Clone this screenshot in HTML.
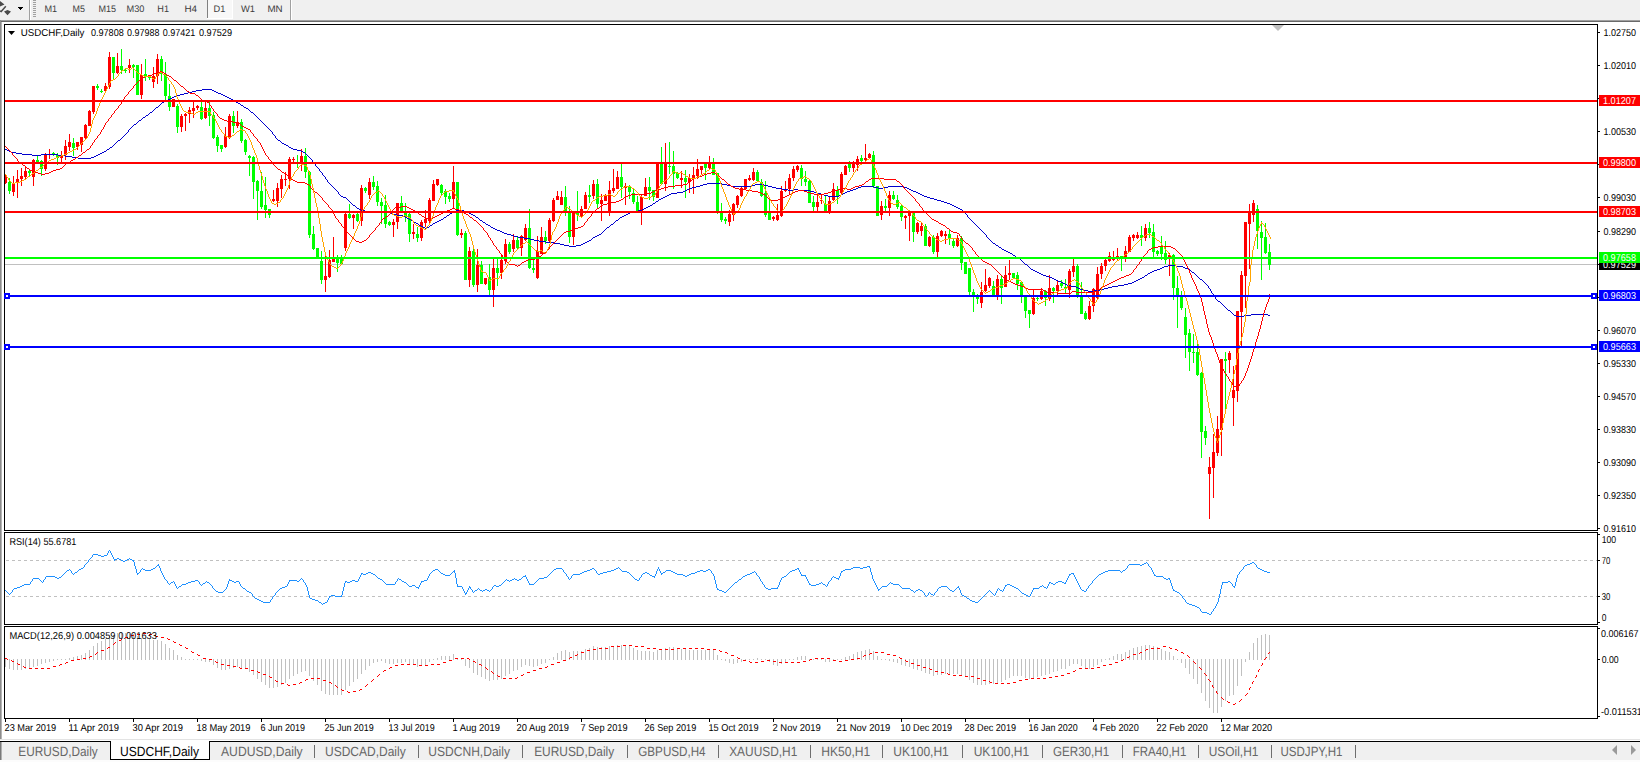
<!DOCTYPE html>
<html><head><meta charset="utf-8"><title>USDCHF,Daily</title>
<style>html,body{margin:0;padding:0;background:#fff;overflow:hidden}svg{display:block}text{font-family:"Liberation Sans",sans-serif;text-rendering:geometricPrecision}</style>
</head><body>
<svg width="1640" height="762" viewBox="0 0 1640 762" shape-rendering="crispEdges">
<rect x="0" y="0" width="1640" height="762" fill="#fff" />
<rect x="0" y="0" width="1640" height="20" fill="#f0f0f0" />
<rect x="0" y="20" width="1640" height="1" fill="#a0a0a0" />
<rect x="0" y="21" width="1640" height="1" fill="#696969" />
<rect x="0" y="20" width="1" height="719" fill="#8c8c8c" />
<rect x="1" y="22" width="1" height="717" fill="#b4b4b4" />
<rect x="29" y="0" width="1" height="20" fill="#a0a0a0" />
<rect x="30" y="0" width="1" height="20" fill="#fff" />
<rect x="33" y="0" width="3" height="1" fill="#a0a0a0" />
<rect x="33" y="2" width="3" height="1" fill="#a0a0a0" />
<rect x="33" y="4" width="3" height="1" fill="#a0a0a0" />
<rect x="33" y="6" width="3" height="1" fill="#a0a0a0" />
<rect x="33" y="8" width="3" height="1" fill="#a0a0a0" />
<rect x="33" y="10" width="3" height="1" fill="#a0a0a0" />
<rect x="33" y="12" width="3" height="1" fill="#a0a0a0" />
<rect x="33" y="14" width="3" height="1" fill="#a0a0a0" />
<rect x="33" y="16" width="3" height="1" fill="#a0a0a0" />
<rect x="18" y="7" width="5" height="1" fill="#000" />
<rect x="19" y="8" width="3" height="1" fill="#000" />
<rect x="20" y="9" width="1" height="1" fill="#000" />
<path d="M0 1 L4.5 4.5 L0 6.5 Z M4 11.5 L7.5 10 L11 11.5 L7.5 15.3 Z" fill="#4a4a4a" shape-rendering="auto"/>
<path d="M0 10.8 L1.2 11.6 L5.8 6.3" stroke="#4a4a4a" stroke-width="1.5" fill="none" shape-rendering="auto"/>
<rect x="207" y="0" width="1" height="18" fill="#808080" />
<rect x="208" y="0" width="24" height="18" fill="#f8f8f8" />
<rect x="207" y="18" width="26" height="1" fill="#fff" />
<rect x="232" y="0" width="1" height="19" fill="#fff" />
<rect x="290" y="0" width="1" height="20" fill="#a0a0a0" />
<rect x="291" y="0" width="1" height="20" fill="#fff" />
<text x="44.5" y="12" font-size="9.5" fill="#3c3c3c" textLength="12.7" lengthAdjust="spacingAndGlyphs" >M1</text>
<text x="72.6" y="12" font-size="9.5" fill="#3c3c3c" textLength="12.4" lengthAdjust="spacingAndGlyphs" >M5</text>
<text x="98.4" y="12" font-size="9.5" fill="#3c3c3c" textLength="17.6" lengthAdjust="spacingAndGlyphs" >M15</text>
<text x="126.6" y="12" font-size="9.5" fill="#3c3c3c" textLength="17.9" lengthAdjust="spacingAndGlyphs" >M30</text>
<text x="157.3" y="12" font-size="9.5" fill="#3c3c3c" textLength="11.7" lengthAdjust="spacingAndGlyphs" >H1</text>
<text x="184.4" y="12" font-size="9.5" fill="#3c3c3c" textLength="12.6" lengthAdjust="spacingAndGlyphs" >H4</text>
<text x="213.5" y="12" font-size="9.5" fill="#3c3c3c" textLength="11.8" lengthAdjust="spacingAndGlyphs" >D1</text>
<text x="241" y="12" font-size="9.5" fill="#3c3c3c" textLength="14" lengthAdjust="spacingAndGlyphs" >W1</text>
<text x="267.4" y="12" font-size="9.5" fill="#3c3c3c" textLength="15.2" lengthAdjust="spacingAndGlyphs" >MN</text>
<rect x="4" y="24" width="1594" height="1" fill="#000" />
<rect x="4" y="530" width="1594" height="1" fill="#000" />
<rect x="4" y="24" width="1" height="507" fill="#000" />
<rect x="1597" y="24" width="1" height="507" fill="#000" />
<rect x="4" y="532" width="1594" height="1" fill="#000" />
<rect x="4" y="624" width="1594" height="1" fill="#000" />
<rect x="4" y="532" width="1" height="93" fill="#000" />
<rect x="1597" y="532" width="1" height="93" fill="#000" />
<rect x="4" y="626" width="1594" height="1" fill="#000" />
<rect x="4" y="718" width="1594" height="1" fill="#000" />
<rect x="4" y="626" width="1" height="93" fill="#000" />
<rect x="1597" y="626" width="1" height="93" fill="#000" />
<rect x="0" y="739" width="1640" height="1" fill="#e3e3e3" />
<rect x="0" y="741" width="1640" height="1" fill="#000" />
<rect x="0" y="742" width="1640" height="18" fill="#f0f0f0" />
<rect x="0" y="760" width="1640" height="2" fill="#fcfcfc" />
<rect x="5" y="264" width="1592" height="1" fill="#c0c0c0" />
<rect x="5" y="174" width="1" height="10" fill="#ff0000" />
<rect x="5" y="175" width="2" height="8" fill="#ff0000" />
<rect x="9" y="178" width="1" height="16" fill="#00ff00" />
<rect x="8" y="182" width="3" height="9" fill="#00ff00" />
<rect x="13" y="176" width="1" height="20" fill="#ff0000" />
<rect x="12" y="184" width="3" height="8" fill="#ff0000" />
<rect x="17" y="170" width="1" height="28" fill="#ff0000" />
<rect x="16" y="179" width="3" height="3" fill="#ff0000" />
<rect x="21" y="168" width="1" height="18" fill="#ff0000" />
<rect x="20" y="176" width="3" height="3" fill="#ff0000" />
<rect x="25" y="166" width="1" height="13" fill="#ff0000" />
<rect x="24" y="171" width="3" height="6" fill="#ff0000" />
<rect x="29" y="170" width="1" height="6" fill="#00ff00" />
<rect x="28" y="171" width="3" height="2" fill="#00ff00" />
<rect x="33" y="159" width="1" height="27" fill="#ff0000" />
<rect x="32" y="160" width="3" height="17" fill="#ff0000" />
<rect x="37" y="156" width="1" height="6" fill="#00ff00" />
<rect x="36" y="160" width="3" height="2" fill="#00ff00" />
<rect x="41" y="160" width="1" height="16" fill="#00ff00" />
<rect x="40" y="161" width="3" height="8" fill="#00ff00" />
<rect x="45" y="153" width="1" height="18" fill="#ff0000" />
<rect x="44" y="154" width="3" height="15" fill="#ff0000" />
<rect x="49" y="149" width="1" height="10" fill="#ff0000" />
<rect x="48" y="154" width="3" height="1" fill="#ff0000" />
<rect x="53" y="152" width="1" height="4" fill="#00ff00" />
<rect x="52" y="153" width="3" height="2" fill="#00ff00" />
<rect x="57" y="153" width="1" height="12" fill="#00ff00" />
<rect x="56" y="155" width="3" height="3" fill="#00ff00" />
<rect x="61" y="151" width="1" height="11" fill="#ff0000" />
<rect x="60" y="155" width="3" height="3" fill="#ff0000" />
<rect x="65" y="140" width="1" height="20" fill="#ff0000" />
<rect x="64" y="146" width="3" height="9" fill="#ff0000" />
<rect x="69" y="134" width="1" height="17" fill="#ff0000" />
<rect x="68" y="142" width="3" height="5" fill="#ff0000" />
<rect x="73" y="138" width="1" height="18" fill="#00ff00" />
<rect x="72" y="143" width="3" height="5" fill="#00ff00" />
<rect x="77" y="142" width="1" height="8" fill="#ff0000" />
<rect x="76" y="142" width="3" height="5" fill="#ff0000" />
<rect x="81" y="137" width="1" height="15" fill="#ff0000" />
<rect x="80" y="137" width="3" height="8" fill="#ff0000" />
<rect x="85" y="124" width="1" height="15" fill="#ff0000" />
<rect x="84" y="125" width="3" height="13" fill="#ff0000" />
<rect x="89" y="110" width="1" height="16" fill="#ff0000" />
<rect x="88" y="111" width="3" height="15" fill="#ff0000" />
<rect x="93" y="86" width="1" height="28" fill="#ff0000" />
<rect x="92" y="86" width="3" height="26" fill="#ff0000" />
<rect x="97" y="84" width="1" height="6" fill="#00ff00" />
<rect x="96" y="86" width="3" height="2" fill="#00ff00" />
<rect x="101" y="89" width="1" height="4" fill="#00ff00" />
<rect x="100" y="91" width="3" height="1" fill="#00ff00" />
<rect x="105" y="83" width="1" height="8" fill="#ff0000" />
<rect x="104" y="86" width="3" height="5" fill="#ff0000" />
<rect x="109" y="52" width="1" height="37" fill="#ff0000" />
<rect x="108" y="57" width="3" height="30" fill="#ff0000" />
<rect x="113" y="57" width="1" height="22" fill="#00ff00" />
<rect x="112" y="57" width="3" height="16" fill="#00ff00" />
<rect x="117" y="53" width="1" height="21" fill="#ff0000" />
<rect x="116" y="66" width="3" height="7" fill="#ff0000" />
<rect x="121" y="49" width="1" height="25" fill="#00ff00" />
<rect x="120" y="66" width="3" height="4" fill="#00ff00" />
<rect x="125" y="69" width="1" height="4" fill="#00ff00" />
<rect x="124" y="70" width="3" height="1" fill="#00ff00" />
<rect x="129" y="59" width="1" height="14" fill="#ff0000" />
<rect x="128" y="65" width="3" height="3" fill="#ff0000" />
<rect x="133" y="64" width="1" height="14" fill="#00ff00" />
<rect x="132" y="65" width="3" height="2" fill="#00ff00" />
<rect x="137" y="65" width="1" height="30" fill="#00ff00" />
<rect x="136" y="65" width="3" height="30" fill="#00ff00" />
<rect x="141" y="64" width="1" height="35" fill="#ff0000" />
<rect x="140" y="75" width="3" height="20" fill="#ff0000" />
<rect x="145" y="59" width="1" height="22" fill="#00ff00" />
<rect x="144" y="74" width="3" height="2" fill="#00ff00" />
<rect x="149" y="76" width="1" height="4" fill="#00ff00" />
<rect x="148" y="77" width="3" height="1" fill="#00ff00" />
<rect x="153" y="67" width="1" height="21" fill="#ff0000" />
<rect x="152" y="76" width="3" height="6" fill="#ff0000" />
<rect x="157" y="54" width="1" height="30" fill="#ff0000" />
<rect x="156" y="59" width="3" height="17" fill="#ff0000" />
<rect x="161" y="56" width="1" height="25" fill="#00ff00" />
<rect x="160" y="59" width="3" height="15" fill="#00ff00" />
<rect x="165" y="62" width="1" height="38" fill="#00ff00" />
<rect x="164" y="74" width="3" height="22" fill="#00ff00" />
<rect x="169" y="84" width="1" height="27" fill="#00ff00" />
<rect x="168" y="96" width="3" height="11" fill="#00ff00" />
<rect x="173" y="99" width="1" height="8" fill="#ff0000" />
<rect x="172" y="99" width="3" height="8" fill="#ff0000" />
<rect x="177" y="104" width="1" height="29" fill="#00ff00" />
<rect x="176" y="106" width="3" height="21" fill="#00ff00" />
<rect x="181" y="114" width="1" height="18" fill="#ff0000" />
<rect x="180" y="116" width="3" height="11" fill="#ff0000" />
<rect x="185" y="113" width="1" height="18" fill="#ff0000" />
<rect x="184" y="114" width="3" height="2" fill="#ff0000" />
<rect x="189" y="107" width="1" height="16" fill="#ff0000" />
<rect x="188" y="110" width="3" height="4" fill="#ff0000" />
<rect x="193" y="102" width="1" height="16" fill="#ff0000" />
<rect x="192" y="108" width="3" height="3" fill="#ff0000" />
<rect x="197" y="105" width="1" height="5" fill="#ff0000" />
<rect x="196" y="106" width="3" height="2" fill="#ff0000" />
<rect x="201" y="102" width="1" height="18" fill="#00ff00" />
<rect x="200" y="107" width="3" height="12" fill="#00ff00" />
<rect x="205" y="101" width="1" height="18" fill="#ff0000" />
<rect x="204" y="108" width="3" height="10" fill="#ff0000" />
<rect x="209" y="102" width="1" height="24" fill="#00ff00" />
<rect x="208" y="108" width="3" height="8" fill="#00ff00" />
<rect x="213" y="112" width="1" height="27" fill="#00ff00" />
<rect x="212" y="115" width="3" height="23" fill="#00ff00" />
<rect x="217" y="135" width="1" height="17" fill="#00ff00" />
<rect x="216" y="137" width="3" height="9" fill="#00ff00" />
<rect x="221" y="145" width="1" height="7" fill="#00ff00" />
<rect x="220" y="145" width="3" height="4" fill="#00ff00" />
<rect x="225" y="127" width="1" height="21" fill="#ff0000" />
<rect x="224" y="136" width="3" height="11" fill="#ff0000" />
<rect x="229" y="114" width="1" height="25" fill="#ff0000" />
<rect x="228" y="116" width="3" height="21" fill="#ff0000" />
<rect x="233" y="111" width="1" height="22" fill="#00ff00" />
<rect x="232" y="116" width="3" height="10" fill="#00ff00" />
<rect x="237" y="111" width="1" height="17" fill="#ff0000" />
<rect x="236" y="122" width="3" height="4" fill="#ff0000" />
<rect x="241" y="119" width="1" height="24" fill="#00ff00" />
<rect x="240" y="122" width="3" height="19" fill="#00ff00" />
<rect x="245" y="139" width="1" height="16" fill="#00ff00" />
<rect x="244" y="140" width="3" height="12" fill="#00ff00" />
<rect x="249" y="155" width="1" height="21" fill="#00ff00" />
<rect x="248" y="156" width="3" height="2" fill="#00ff00" />
<rect x="253" y="156" width="1" height="43" fill="#00ff00" />
<rect x="252" y="157" width="3" height="25" fill="#00ff00" />
<rect x="257" y="180" width="1" height="40" fill="#00ff00" />
<rect x="256" y="181" width="3" height="10" fill="#00ff00" />
<rect x="261" y="172" width="1" height="37" fill="#00ff00" />
<rect x="260" y="191" width="3" height="16" fill="#00ff00" />
<rect x="265" y="177" width="1" height="41" fill="#00ff00" />
<rect x="264" y="205" width="3" height="5" fill="#00ff00" />
<rect x="269" y="209" width="1" height="9" fill="#00ff00" />
<rect x="268" y="209" width="3" height="6" fill="#00ff00" />
<rect x="273" y="190" width="1" height="12" fill="#ff0000" />
<rect x="272" y="199" width="3" height="2" fill="#ff0000" />
<rect x="277" y="183" width="1" height="24" fill="#ff0000" />
<rect x="276" y="188" width="3" height="13" fill="#ff0000" />
<rect x="281" y="175" width="1" height="23" fill="#ff0000" />
<rect x="280" y="179" width="3" height="10" fill="#ff0000" />
<rect x="285" y="172" width="1" height="14" fill="#ff0000" />
<rect x="284" y="179" width="3" height="1" fill="#ff0000" />
<rect x="289" y="157" width="1" height="32" fill="#ff0000" />
<rect x="288" y="159" width="3" height="20" fill="#ff0000" />
<rect x="293" y="157" width="1" height="5" fill="#ff0000" />
<rect x="292" y="159" width="3" height="1" fill="#ff0000" />
<rect x="297" y="155" width="1" height="13" fill="#00ff00" />
<rect x="296" y="162" width="3" height="1" fill="#00ff00" />
<rect x="301" y="149" width="1" height="22" fill="#ff0000" />
<rect x="300" y="156" width="3" height="8" fill="#ff0000" />
<rect x="305" y="148" width="1" height="30" fill="#00ff00" />
<rect x="304" y="156" width="3" height="16" fill="#00ff00" />
<rect x="309" y="171" width="1" height="67" fill="#00ff00" />
<rect x="308" y="172" width="3" height="63" fill="#00ff00" />
<rect x="313" y="226" width="1" height="24" fill="#00ff00" />
<rect x="312" y="234" width="3" height="15" fill="#00ff00" />
<rect x="317" y="248" width="1" height="11" fill="#00ff00" />
<rect x="316" y="248" width="3" height="10" fill="#00ff00" />
<rect x="321" y="251" width="1" height="33" fill="#00ff00" />
<rect x="320" y="261" width="3" height="19" fill="#00ff00" />
<rect x="325" y="255" width="1" height="37" fill="#ff0000" />
<rect x="324" y="276" width="3" height="4" fill="#ff0000" />
<rect x="329" y="250" width="1" height="28" fill="#ff0000" />
<rect x="328" y="260" width="3" height="17" fill="#ff0000" />
<rect x="333" y="237" width="1" height="25" fill="#ff0000" />
<rect x="332" y="258" width="3" height="4" fill="#ff0000" />
<rect x="337" y="255" width="1" height="17" fill="#00ff00" />
<rect x="336" y="258" width="3" height="5" fill="#00ff00" />
<rect x="341" y="255" width="1" height="10" fill="#00ff00" />
<rect x="340" y="258" width="3" height="6" fill="#00ff00" />
<rect x="345" y="212" width="1" height="39" fill="#ff0000" />
<rect x="344" y="214" width="3" height="34" fill="#ff0000" />
<rect x="349" y="204" width="1" height="15" fill="#00ff00" />
<rect x="348" y="214" width="3" height="4" fill="#00ff00" />
<rect x="353" y="214" width="1" height="15" fill="#ff0000" />
<rect x="352" y="215" width="3" height="3" fill="#ff0000" />
<rect x="357" y="212" width="1" height="10" fill="#00ff00" />
<rect x="356" y="214" width="3" height="7" fill="#00ff00" />
<rect x="361" y="185" width="1" height="41" fill="#ff0000" />
<rect x="360" y="188" width="3" height="33" fill="#ff0000" />
<rect x="365" y="187" width="1" height="6" fill="#00ff00" />
<rect x="364" y="188" width="3" height="3" fill="#00ff00" />
<rect x="369" y="178" width="1" height="21" fill="#ff0000" />
<rect x="368" y="182" width="3" height="13" fill="#ff0000" />
<rect x="373" y="176" width="1" height="14" fill="#00ff00" />
<rect x="372" y="182" width="3" height="5" fill="#00ff00" />
<rect x="377" y="181" width="1" height="25" fill="#00ff00" />
<rect x="376" y="186" width="3" height="16" fill="#00ff00" />
<rect x="381" y="198" width="1" height="26" fill="#00ff00" />
<rect x="380" y="202" width="3" height="4" fill="#00ff00" />
<rect x="385" y="195" width="1" height="33" fill="#00ff00" />
<rect x="384" y="205" width="3" height="19" fill="#00ff00" />
<rect x="389" y="221" width="1" height="5" fill="#00ff00" />
<rect x="388" y="222" width="3" height="3" fill="#00ff00" />
<rect x="393" y="219" width="1" height="18" fill="#ff0000" />
<rect x="392" y="222" width="3" height="3" fill="#ff0000" />
<rect x="397" y="203" width="1" height="26" fill="#ff0000" />
<rect x="396" y="203" width="3" height="19" fill="#ff0000" />
<rect x="401" y="196" width="1" height="17" fill="#00ff00" />
<rect x="400" y="203" width="3" height="9" fill="#00ff00" />
<rect x="405" y="203" width="1" height="19" fill="#00ff00" />
<rect x="404" y="212" width="3" height="4" fill="#00ff00" />
<rect x="409" y="213" width="1" height="29" fill="#00ff00" />
<rect x="408" y="214" width="3" height="20" fill="#00ff00" />
<rect x="413" y="224" width="1" height="15" fill="#ff0000" />
<rect x="412" y="232" width="3" height="2" fill="#ff0000" />
<rect x="417" y="227" width="1" height="15" fill="#00ff00" />
<rect x="416" y="234" width="3" height="4" fill="#00ff00" />
<rect x="421" y="220" width="1" height="21" fill="#ff0000" />
<rect x="420" y="222" width="3" height="16" fill="#ff0000" />
<rect x="425" y="210" width="1" height="17" fill="#ff0000" />
<rect x="424" y="219" width="3" height="4" fill="#ff0000" />
<rect x="429" y="198" width="1" height="25" fill="#ff0000" />
<rect x="428" y="200" width="3" height="21" fill="#ff0000" />
<rect x="433" y="180" width="1" height="21" fill="#ff0000" />
<rect x="432" y="184" width="3" height="17" fill="#ff0000" />
<rect x="437" y="179" width="1" height="7" fill="#ff0000" />
<rect x="436" y="179" width="3" height="6" fill="#ff0000" />
<rect x="441" y="184" width="1" height="11" fill="#00ff00" />
<rect x="440" y="185" width="3" height="8" fill="#00ff00" />
<rect x="445" y="189" width="1" height="15" fill="#00ff00" />
<rect x="444" y="191" width="3" height="6" fill="#00ff00" />
<rect x="449" y="193" width="1" height="9" fill="#00ff00" />
<rect x="448" y="196" width="3" height="3" fill="#00ff00" />
<rect x="453" y="166" width="1" height="42" fill="#ff0000" />
<rect x="452" y="182" width="3" height="17" fill="#ff0000" />
<rect x="457" y="182" width="1" height="54" fill="#00ff00" />
<rect x="456" y="182" width="3" height="53" fill="#00ff00" />
<rect x="461" y="229" width="1" height="9" fill="#ff0000" />
<rect x="460" y="233" width="3" height="2" fill="#ff0000" />
<rect x="465" y="231" width="1" height="49" fill="#00ff00" />
<rect x="464" y="233" width="3" height="47" fill="#00ff00" />
<rect x="469" y="247" width="1" height="40" fill="#ff0000" />
<rect x="468" y="251" width="3" height="29" fill="#ff0000" />
<rect x="473" y="245" width="1" height="42" fill="#00ff00" />
<rect x="472" y="251" width="3" height="34" fill="#00ff00" />
<rect x="477" y="249" width="1" height="43" fill="#ff0000" />
<rect x="476" y="265" width="3" height="20" fill="#ff0000" />
<rect x="481" y="261" width="1" height="23" fill="#00ff00" />
<rect x="480" y="265" width="3" height="19" fill="#00ff00" />
<rect x="485" y="278" width="1" height="7" fill="#ff0000" />
<rect x="484" y="278" width="3" height="6" fill="#ff0000" />
<rect x="489" y="264" width="1" height="31" fill="#00ff00" />
<rect x="488" y="277" width="3" height="13" fill="#00ff00" />
<rect x="493" y="259" width="1" height="48" fill="#ff0000" />
<rect x="492" y="268" width="3" height="22" fill="#ff0000" />
<rect x="497" y="259" width="1" height="27" fill="#00ff00" />
<rect x="496" y="268" width="3" height="5" fill="#00ff00" />
<rect x="501" y="254" width="1" height="25" fill="#ff0000" />
<rect x="500" y="260" width="3" height="13" fill="#ff0000" />
<rect x="505" y="239" width="1" height="25" fill="#ff0000" />
<rect x="504" y="244" width="3" height="17" fill="#ff0000" />
<rect x="509" y="242" width="1" height="12" fill="#00ff00" />
<rect x="508" y="244" width="3" height="8" fill="#00ff00" />
<rect x="513" y="234" width="1" height="18" fill="#ff0000" />
<rect x="512" y="240" width="3" height="9" fill="#ff0000" />
<rect x="517" y="237" width="1" height="13" fill="#00ff00" />
<rect x="516" y="240" width="3" height="8" fill="#00ff00" />
<rect x="521" y="235" width="1" height="21" fill="#ff0000" />
<rect x="520" y="236" width="3" height="12" fill="#ff0000" />
<rect x="525" y="224" width="1" height="17" fill="#ff0000" />
<rect x="524" y="228" width="3" height="12" fill="#ff0000" />
<rect x="529" y="209" width="1" height="60" fill="#00ff00" />
<rect x="528" y="228" width="3" height="40" fill="#00ff00" />
<rect x="533" y="258" width="1" height="15" fill="#00ff00" />
<rect x="532" y="268" width="3" height="2" fill="#00ff00" />
<rect x="537" y="236" width="1" height="43" fill="#ff0000" />
<rect x="536" y="251" width="3" height="27" fill="#ff0000" />
<rect x="541" y="227" width="1" height="27" fill="#ff0000" />
<rect x="540" y="237" width="3" height="17" fill="#ff0000" />
<rect x="545" y="231" width="1" height="13" fill="#00ff00" />
<rect x="544" y="237" width="3" height="4" fill="#00ff00" />
<rect x="549" y="218" width="1" height="24" fill="#ff0000" />
<rect x="548" y="220" width="3" height="21" fill="#ff0000" />
<rect x="553" y="198" width="1" height="24" fill="#ff0000" />
<rect x="552" y="200" width="3" height="21" fill="#ff0000" />
<rect x="557" y="191" width="1" height="9" fill="#ff0000" />
<rect x="556" y="196" width="3" height="4" fill="#ff0000" />
<rect x="561" y="191" width="1" height="14" fill="#ff0000" />
<rect x="560" y="197" width="3" height="8" fill="#ff0000" />
<rect x="565" y="186" width="1" height="30" fill="#00ff00" />
<rect x="564" y="197" width="3" height="14" fill="#00ff00" />
<rect x="569" y="206" width="1" height="37" fill="#00ff00" />
<rect x="568" y="213" width="3" height="24" fill="#00ff00" />
<rect x="573" y="212" width="1" height="33" fill="#ff0000" />
<rect x="572" y="212" width="3" height="25" fill="#ff0000" />
<rect x="577" y="191" width="1" height="30" fill="#00ff00" />
<rect x="576" y="213" width="3" height="2" fill="#00ff00" />
<rect x="581" y="206" width="1" height="11" fill="#ff0000" />
<rect x="580" y="209" width="3" height="7" fill="#ff0000" />
<rect x="585" y="192" width="1" height="17" fill="#ff0000" />
<rect x="584" y="195" width="3" height="14" fill="#ff0000" />
<rect x="589" y="185" width="1" height="18" fill="#00ff00" />
<rect x="588" y="195" width="3" height="2" fill="#00ff00" />
<rect x="593" y="180" width="1" height="19" fill="#ff0000" />
<rect x="592" y="184" width="3" height="12" fill="#ff0000" />
<rect x="597" y="179" width="1" height="29" fill="#00ff00" />
<rect x="596" y="184" width="3" height="20" fill="#00ff00" />
<rect x="601" y="194" width="1" height="27" fill="#ff0000" />
<rect x="600" y="200" width="3" height="4" fill="#ff0000" />
<rect x="605" y="194" width="1" height="7" fill="#ff0000" />
<rect x="604" y="196" width="3" height="5" fill="#ff0000" />
<rect x="609" y="181" width="1" height="35" fill="#ff0000" />
<rect x="608" y="190" width="3" height="21" fill="#ff0000" />
<rect x="613" y="169" width="1" height="24" fill="#ff0000" />
<rect x="612" y="188" width="3" height="3" fill="#ff0000" />
<rect x="617" y="171" width="1" height="18" fill="#ff0000" />
<rect x="616" y="177" width="3" height="12" fill="#ff0000" />
<rect x="621" y="164" width="1" height="34" fill="#00ff00" />
<rect x="620" y="177" width="3" height="10" fill="#00ff00" />
<rect x="625" y="183" width="1" height="22" fill="#ff0000" />
<rect x="624" y="186" width="3" height="2" fill="#ff0000" />
<rect x="629" y="185" width="1" height="14" fill="#00ff00" />
<rect x="628" y="187" width="3" height="5" fill="#00ff00" />
<rect x="633" y="189" width="1" height="15" fill="#00ff00" />
<rect x="632" y="193" width="3" height="9" fill="#00ff00" />
<rect x="637" y="196" width="1" height="15" fill="#00ff00" />
<rect x="636" y="202" width="3" height="9" fill="#00ff00" />
<rect x="641" y="195" width="1" height="30" fill="#ff0000" />
<rect x="640" y="197" width="3" height="14" fill="#ff0000" />
<rect x="645" y="178" width="1" height="18" fill="#ff0000" />
<rect x="644" y="187" width="3" height="9" fill="#ff0000" />
<rect x="649" y="177" width="1" height="23" fill="#00ff00" />
<rect x="648" y="187" width="3" height="4" fill="#00ff00" />
<rect x="653" y="190" width="1" height="11" fill="#00ff00" />
<rect x="652" y="190" width="3" height="7" fill="#00ff00" />
<rect x="657" y="164" width="1" height="34" fill="#ff0000" />
<rect x="656" y="164" width="3" height="34" fill="#ff0000" />
<rect x="661" y="147" width="1" height="37" fill="#00ff00" />
<rect x="660" y="164" width="3" height="20" fill="#00ff00" />
<rect x="665" y="143" width="1" height="48" fill="#ff0000" />
<rect x="664" y="164" width="3" height="20" fill="#ff0000" />
<rect x="669" y="142" width="1" height="32" fill="#00ff00" />
<rect x="668" y="166" width="3" height="1" fill="#00ff00" />
<rect x="673" y="151" width="1" height="38" fill="#00ff00" />
<rect x="672" y="166" width="3" height="8" fill="#00ff00" />
<rect x="677" y="172" width="1" height="7" fill="#00ff00" />
<rect x="676" y="173" width="3" height="5" fill="#00ff00" />
<rect x="681" y="171" width="1" height="17" fill="#ff0000" />
<rect x="680" y="178" width="3" height="2" fill="#ff0000" />
<rect x="685" y="170" width="1" height="28" fill="#00ff00" />
<rect x="684" y="178" width="3" height="4" fill="#00ff00" />
<rect x="689" y="174" width="1" height="19" fill="#ff0000" />
<rect x="688" y="178" width="3" height="4" fill="#ff0000" />
<rect x="693" y="167" width="1" height="27" fill="#ff0000" />
<rect x="692" y="175" width="3" height="3" fill="#ff0000" />
<rect x="697" y="159" width="1" height="20" fill="#ff0000" />
<rect x="696" y="169" width="3" height="7" fill="#ff0000" />
<rect x="701" y="166" width="1" height="8" fill="#ff0000" />
<rect x="700" y="166" width="3" height="4" fill="#ff0000" />
<rect x="705" y="164" width="1" height="16" fill="#00ff00" />
<rect x="704" y="164" width="3" height="4" fill="#00ff00" />
<rect x="709" y="156" width="1" height="13" fill="#ff0000" />
<rect x="708" y="164" width="3" height="4" fill="#ff0000" />
<rect x="713" y="158" width="1" height="17" fill="#00ff00" />
<rect x="712" y="164" width="3" height="11" fill="#00ff00" />
<rect x="717" y="173" width="1" height="41" fill="#00ff00" />
<rect x="716" y="173" width="3" height="38" fill="#00ff00" />
<rect x="721" y="203" width="1" height="19" fill="#00ff00" />
<rect x="720" y="213" width="3" height="7" fill="#00ff00" />
<rect x="725" y="217" width="1" height="7" fill="#00ff00" />
<rect x="724" y="219" width="3" height="2" fill="#00ff00" />
<rect x="729" y="210" width="1" height="16" fill="#ff0000" />
<rect x="728" y="214" width="3" height="8" fill="#ff0000" />
<rect x="733" y="203" width="1" height="18" fill="#ff0000" />
<rect x="732" y="204" width="3" height="11" fill="#ff0000" />
<rect x="737" y="195" width="1" height="13" fill="#ff0000" />
<rect x="736" y="196" width="3" height="9" fill="#ff0000" />
<rect x="741" y="187" width="1" height="10" fill="#ff0000" />
<rect x="740" y="188" width="3" height="8" fill="#ff0000" />
<rect x="745" y="179" width="1" height="11" fill="#ff0000" />
<rect x="744" y="179" width="3" height="10" fill="#ff0000" />
<rect x="749" y="175" width="1" height="6" fill="#ff0000" />
<rect x="748" y="178" width="3" height="2" fill="#ff0000" />
<rect x="753" y="168" width="1" height="13" fill="#ff0000" />
<rect x="752" y="172" width="3" height="8" fill="#ff0000" />
<rect x="757" y="170" width="1" height="11" fill="#00ff00" />
<rect x="756" y="172" width="3" height="9" fill="#00ff00" />
<rect x="761" y="179" width="1" height="18" fill="#00ff00" />
<rect x="760" y="182" width="3" height="14" fill="#00ff00" />
<rect x="765" y="181" width="1" height="36" fill="#00ff00" />
<rect x="764" y="193" width="3" height="22" fill="#00ff00" />
<rect x="769" y="199" width="1" height="21" fill="#00ff00" />
<rect x="768" y="213" width="3" height="7" fill="#00ff00" />
<rect x="773" y="216" width="1" height="5" fill="#ff0000" />
<rect x="772" y="217" width="3" height="2" fill="#ff0000" />
<rect x="777" y="204" width="1" height="17" fill="#ff0000" />
<rect x="776" y="215" width="3" height="5" fill="#ff0000" />
<rect x="781" y="186" width="1" height="31" fill="#ff0000" />
<rect x="780" y="191" width="3" height="25" fill="#ff0000" />
<rect x="785" y="181" width="1" height="11" fill="#ff0000" />
<rect x="784" y="189" width="3" height="2" fill="#ff0000" />
<rect x="789" y="174" width="1" height="20" fill="#ff0000" />
<rect x="788" y="178" width="3" height="11" fill="#ff0000" />
<rect x="793" y="166" width="1" height="15" fill="#ff0000" />
<rect x="792" y="169" width="3" height="9" fill="#ff0000" />
<rect x="797" y="165" width="1" height="7" fill="#ff0000" />
<rect x="796" y="166" width="3" height="4" fill="#ff0000" />
<rect x="801" y="165" width="1" height="21" fill="#00ff00" />
<rect x="800" y="168" width="3" height="11" fill="#00ff00" />
<rect x="805" y="171" width="1" height="15" fill="#00ff00" />
<rect x="804" y="179" width="3" height="3" fill="#00ff00" />
<rect x="809" y="180" width="1" height="23" fill="#00ff00" />
<rect x="808" y="181" width="3" height="22" fill="#00ff00" />
<rect x="813" y="196" width="1" height="15" fill="#00ff00" />
<rect x="812" y="202" width="3" height="5" fill="#00ff00" />
<rect x="817" y="195" width="1" height="16" fill="#ff0000" />
<rect x="816" y="202" width="3" height="5" fill="#ff0000" />
<rect x="821" y="194" width="1" height="10" fill="#ff0000" />
<rect x="820" y="200" width="3" height="1" fill="#ff0000" />
<rect x="825" y="195" width="1" height="16" fill="#00ff00" />
<rect x="824" y="204" width="3" height="7" fill="#00ff00" />
<rect x="829" y="197" width="1" height="17" fill="#ff0000" />
<rect x="828" y="201" width="3" height="10" fill="#ff0000" />
<rect x="833" y="183" width="1" height="18" fill="#ff0000" />
<rect x="832" y="189" width="3" height="11" fill="#ff0000" />
<rect x="837" y="186" width="1" height="18" fill="#00ff00" />
<rect x="836" y="190" width="3" height="6" fill="#00ff00" />
<rect x="841" y="172" width="1" height="22" fill="#ff0000" />
<rect x="840" y="174" width="3" height="19" fill="#ff0000" />
<rect x="845" y="165" width="1" height="10" fill="#ff0000" />
<rect x="844" y="166" width="3" height="9" fill="#ff0000" />
<rect x="849" y="161" width="1" height="11" fill="#00ff00" />
<rect x="848" y="164" width="3" height="4" fill="#00ff00" />
<rect x="853" y="161" width="1" height="11" fill="#ff0000" />
<rect x="852" y="162" width="3" height="6" fill="#ff0000" />
<rect x="857" y="156" width="1" height="15" fill="#ff0000" />
<rect x="856" y="159" width="3" height="6" fill="#ff0000" />
<rect x="861" y="155" width="1" height="7" fill="#00ff00" />
<rect x="860" y="158" width="3" height="3" fill="#00ff00" />
<rect x="865" y="144" width="1" height="20" fill="#ff0000" />
<rect x="864" y="158" width="3" height="2" fill="#ff0000" />
<rect x="869" y="153" width="1" height="5" fill="#ff0000" />
<rect x="868" y="154" width="3" height="4" fill="#ff0000" />
<rect x="873" y="151" width="1" height="37" fill="#00ff00" />
<rect x="872" y="155" width="3" height="31" fill="#00ff00" />
<rect x="877" y="186" width="1" height="30" fill="#00ff00" />
<rect x="876" y="186" width="3" height="30" fill="#00ff00" />
<rect x="881" y="201" width="1" height="19" fill="#ff0000" />
<rect x="880" y="206" width="3" height="9" fill="#ff0000" />
<rect x="885" y="199" width="1" height="12" fill="#00ff00" />
<rect x="884" y="206" width="3" height="2" fill="#00ff00" />
<rect x="889" y="191" width="1" height="25" fill="#ff0000" />
<rect x="888" y="195" width="3" height="13" fill="#ff0000" />
<rect x="893" y="191" width="1" height="9" fill="#00ff00" />
<rect x="892" y="195" width="3" height="4" fill="#00ff00" />
<rect x="897" y="195" width="1" height="14" fill="#00ff00" />
<rect x="896" y="200" width="3" height="7" fill="#00ff00" />
<rect x="901" y="204" width="1" height="17" fill="#00ff00" />
<rect x="900" y="206" width="3" height="11" fill="#00ff00" />
<rect x="905" y="215" width="1" height="14" fill="#ff0000" />
<rect x="904" y="216" width="3" height="2" fill="#ff0000" />
<rect x="909" y="210" width="1" height="31" fill="#ff0000" />
<rect x="908" y="212" width="3" height="4" fill="#ff0000" />
<rect x="913" y="212" width="1" height="30" fill="#00ff00" />
<rect x="912" y="213" width="3" height="19" fill="#00ff00" />
<rect x="917" y="222" width="1" height="12" fill="#ff0000" />
<rect x="916" y="223" width="3" height="9" fill="#ff0000" />
<rect x="921" y="222" width="1" height="14" fill="#ff0000" />
<rect x="920" y="226" width="3" height="5" fill="#ff0000" />
<rect x="925" y="224" width="1" height="22" fill="#00ff00" />
<rect x="924" y="226" width="3" height="20" fill="#00ff00" />
<rect x="929" y="236" width="1" height="11" fill="#ff0000" />
<rect x="928" y="237" width="3" height="9" fill="#ff0000" />
<rect x="933" y="235" width="1" height="19" fill="#00ff00" />
<rect x="932" y="237" width="3" height="15" fill="#00ff00" />
<rect x="937" y="233" width="1" height="24" fill="#ff0000" />
<rect x="936" y="236" width="3" height="16" fill="#ff0000" />
<rect x="941" y="230" width="1" height="7" fill="#ff0000" />
<rect x="940" y="231" width="3" height="5" fill="#ff0000" />
<rect x="945" y="231" width="1" height="13" fill="#ff0000" />
<rect x="944" y="234" width="3" height="2" fill="#ff0000" />
<rect x="949" y="230" width="1" height="15" fill="#00ff00" />
<rect x="948" y="234" width="3" height="5" fill="#00ff00" />
<rect x="953" y="239" width="1" height="9" fill="#00ff00" />
<rect x="952" y="241" width="3" height="5" fill="#00ff00" />
<rect x="957" y="235" width="1" height="12" fill="#ff0000" />
<rect x="956" y="238" width="3" height="8" fill="#ff0000" />
<rect x="961" y="236" width="1" height="34" fill="#00ff00" />
<rect x="960" y="238" width="3" height="25" fill="#00ff00" />
<rect x="965" y="262" width="1" height="12" fill="#00ff00" />
<rect x="964" y="262" width="3" height="12" fill="#00ff00" />
<rect x="969" y="268" width="1" height="27" fill="#00ff00" />
<rect x="968" y="268" width="3" height="24" fill="#00ff00" />
<rect x="973" y="289" width="1" height="23" fill="#00ff00" />
<rect x="972" y="292" width="3" height="3" fill="#00ff00" />
<rect x="977" y="294" width="1" height="10" fill="#00ff00" />
<rect x="976" y="296" width="3" height="3" fill="#00ff00" />
<rect x="981" y="282" width="1" height="26" fill="#ff0000" />
<rect x="980" y="292" width="3" height="11" fill="#ff0000" />
<rect x="985" y="269" width="1" height="23" fill="#ff0000" />
<rect x="984" y="285" width="3" height="6" fill="#ff0000" />
<rect x="989" y="277" width="1" height="11" fill="#ff0000" />
<rect x="988" y="278" width="3" height="8" fill="#ff0000" />
<rect x="993" y="281" width="1" height="15" fill="#00ff00" />
<rect x="992" y="286" width="3" height="9" fill="#00ff00" />
<rect x="997" y="275" width="1" height="25" fill="#ff0000" />
<rect x="996" y="279" width="3" height="16" fill="#ff0000" />
<rect x="1001" y="276" width="1" height="28" fill="#00ff00" />
<rect x="1000" y="279" width="3" height="9" fill="#00ff00" />
<rect x="1005" y="266" width="1" height="21" fill="#ff0000" />
<rect x="1004" y="275" width="3" height="12" fill="#ff0000" />
<rect x="1009" y="260" width="1" height="20" fill="#ff0000" />
<rect x="1008" y="273" width="3" height="2" fill="#ff0000" />
<rect x="1013" y="273" width="1" height="6" fill="#00ff00" />
<rect x="1012" y="273" width="3" height="5" fill="#00ff00" />
<rect x="1017" y="272" width="1" height="18" fill="#00ff00" />
<rect x="1016" y="275" width="3" height="9" fill="#00ff00" />
<rect x="1021" y="281" width="1" height="22" fill="#00ff00" />
<rect x="1020" y="282" width="3" height="13" fill="#00ff00" />
<rect x="1025" y="296" width="1" height="22" fill="#00ff00" />
<rect x="1024" y="296" width="3" height="15" fill="#00ff00" />
<rect x="1029" y="310" width="1" height="18" fill="#00ff00" />
<rect x="1028" y="310" width="3" height="4" fill="#00ff00" />
<rect x="1033" y="290" width="1" height="25" fill="#ff0000" />
<rect x="1032" y="298" width="3" height="16" fill="#ff0000" />
<rect x="1037" y="297" width="1" height="4" fill="#00ff00" />
<rect x="1036" y="298" width="3" height="1" fill="#00ff00" />
<rect x="1041" y="288" width="1" height="12" fill="#ff0000" />
<rect x="1040" y="291" width="3" height="8" fill="#ff0000" />
<rect x="1045" y="290" width="1" height="16" fill="#00ff00" />
<rect x="1044" y="291" width="3" height="7" fill="#00ff00" />
<rect x="1049" y="275" width="1" height="26" fill="#ff0000" />
<rect x="1048" y="288" width="3" height="11" fill="#ff0000" />
<rect x="1053" y="287" width="1" height="16" fill="#00ff00" />
<rect x="1052" y="288" width="3" height="3" fill="#00ff00" />
<rect x="1057" y="281" width="1" height="14" fill="#ff0000" />
<rect x="1056" y="285" width="3" height="6" fill="#ff0000" />
<rect x="1061" y="280" width="1" height="8" fill="#00ff00" />
<rect x="1060" y="283" width="3" height="3" fill="#00ff00" />
<rect x="1065" y="279" width="1" height="15" fill="#00ff00" />
<rect x="1064" y="287" width="3" height="2" fill="#00ff00" />
<rect x="1069" y="269" width="1" height="29" fill="#ff0000" />
<rect x="1068" y="271" width="3" height="19" fill="#ff0000" />
<rect x="1073" y="259" width="1" height="18" fill="#ff0000" />
<rect x="1072" y="266" width="3" height="6" fill="#ff0000" />
<rect x="1077" y="264" width="1" height="34" fill="#00ff00" />
<rect x="1076" y="266" width="3" height="30" fill="#00ff00" />
<rect x="1081" y="282" width="1" height="32" fill="#00ff00" />
<rect x="1080" y="296" width="3" height="18" fill="#00ff00" />
<rect x="1085" y="311" width="1" height="9" fill="#00ff00" />
<rect x="1084" y="313" width="3" height="6" fill="#00ff00" />
<rect x="1089" y="301" width="1" height="19" fill="#ff0000" />
<rect x="1088" y="306" width="3" height="13" fill="#ff0000" />
<rect x="1093" y="288" width="1" height="24" fill="#ff0000" />
<rect x="1092" y="289" width="3" height="17" fill="#ff0000" />
<rect x="1097" y="267" width="1" height="32" fill="#ff0000" />
<rect x="1096" y="274" width="3" height="24" fill="#ff0000" />
<rect x="1101" y="263" width="1" height="16" fill="#ff0000" />
<rect x="1100" y="266" width="3" height="8" fill="#ff0000" />
<rect x="1105" y="259" width="1" height="12" fill="#ff0000" />
<rect x="1104" y="260" width="3" height="6" fill="#ff0000" />
<rect x="1109" y="252" width="1" height="10" fill="#ff0000" />
<rect x="1108" y="256" width="3" height="5" fill="#ff0000" />
<rect x="1113" y="251" width="1" height="10" fill="#ff0000" />
<rect x="1112" y="258" width="3" height="2" fill="#ff0000" />
<rect x="1117" y="248" width="1" height="12" fill="#ff0000" />
<rect x="1116" y="256" width="3" height="3" fill="#ff0000" />
<rect x="1121" y="256" width="1" height="15" fill="#00ff00" />
<rect x="1120" y="256" width="3" height="3" fill="#00ff00" />
<rect x="1125" y="246" width="1" height="16" fill="#ff0000" />
<rect x="1124" y="251" width="3" height="8" fill="#ff0000" />
<rect x="1129" y="235" width="1" height="17" fill="#ff0000" />
<rect x="1128" y="237" width="3" height="15" fill="#ff0000" />
<rect x="1133" y="234" width="1" height="7" fill="#ff0000" />
<rect x="1132" y="235" width="3" height="3" fill="#ff0000" />
<rect x="1137" y="232" width="1" height="7" fill="#ff0000" />
<rect x="1136" y="235" width="3" height="3" fill="#ff0000" />
<rect x="1141" y="226" width="1" height="20" fill="#00ff00" />
<rect x="1140" y="235" width="3" height="3" fill="#00ff00" />
<rect x="1145" y="224" width="1" height="17" fill="#ff0000" />
<rect x="1144" y="228" width="3" height="10" fill="#ff0000" />
<rect x="1149" y="222" width="1" height="16" fill="#00ff00" />
<rect x="1148" y="228" width="3" height="5" fill="#00ff00" />
<rect x="1153" y="224" width="1" height="33" fill="#00ff00" />
<rect x="1152" y="232" width="3" height="20" fill="#00ff00" />
<rect x="1157" y="250" width="1" height="6" fill="#00ff00" />
<rect x="1156" y="251" width="3" height="3" fill="#00ff00" />
<rect x="1161" y="236" width="1" height="24" fill="#00ff00" />
<rect x="1160" y="247" width="3" height="7" fill="#00ff00" />
<rect x="1165" y="241" width="1" height="23" fill="#00ff00" />
<rect x="1164" y="253" width="3" height="7" fill="#00ff00" />
<rect x="1169" y="253" width="1" height="23" fill="#ff0000" />
<rect x="1168" y="255" width="3" height="4" fill="#ff0000" />
<rect x="1173" y="254" width="1" height="46" fill="#00ff00" />
<rect x="1172" y="255" width="3" height="33" fill="#00ff00" />
<rect x="1177" y="276" width="1" height="52" fill="#00ff00" />
<rect x="1176" y="288" width="3" height="7" fill="#00ff00" />
<rect x="1181" y="291" width="1" height="19" fill="#00ff00" />
<rect x="1180" y="296" width="3" height="12" fill="#00ff00" />
<rect x="1185" y="308" width="1" height="50" fill="#00ff00" />
<rect x="1184" y="317" width="3" height="18" fill="#00ff00" />
<rect x="1189" y="329" width="1" height="42" fill="#00ff00" />
<rect x="1188" y="333" width="3" height="19" fill="#00ff00" />
<rect x="1193" y="334" width="1" height="29" fill="#00ff00" />
<rect x="1192" y="352" width="3" height="1" fill="#00ff00" />
<rect x="1197" y="342" width="1" height="34" fill="#00ff00" />
<rect x="1196" y="352" width="3" height="23" fill="#00ff00" />
<rect x="1201" y="372" width="1" height="86" fill="#00ff00" />
<rect x="1200" y="373" width="3" height="59" fill="#00ff00" />
<rect x="1205" y="426" width="1" height="19" fill="#00ff00" />
<rect x="1204" y="431" width="3" height="7" fill="#00ff00" />
<rect x="1209" y="457" width="1" height="62" fill="#ff0000" />
<rect x="1208" y="467" width="3" height="7" fill="#ff0000" />
<rect x="1213" y="434" width="1" height="64" fill="#ff0000" />
<rect x="1212" y="452" width="3" height="16" fill="#ff0000" />
<rect x="1217" y="416" width="1" height="40" fill="#ff0000" />
<rect x="1216" y="429" width="3" height="24" fill="#ff0000" />
<rect x="1221" y="359" width="1" height="97" fill="#ff0000" />
<rect x="1220" y="359" width="3" height="71" fill="#ff0000" />
<rect x="1225" y="352" width="1" height="59" fill="#00ff00" />
<rect x="1224" y="359" width="3" height="2" fill="#00ff00" />
<rect x="1229" y="351" width="1" height="22" fill="#ff0000" />
<rect x="1228" y="353" width="3" height="7" fill="#ff0000" />
<rect x="1233" y="366" width="1" height="60" fill="#ff0000" />
<rect x="1232" y="390" width="3" height="8" fill="#ff0000" />
<rect x="1237" y="311" width="1" height="91" fill="#ff0000" />
<rect x="1236" y="311" width="3" height="80" fill="#ff0000" />
<rect x="1241" y="271" width="1" height="75" fill="#ff0000" />
<rect x="1240" y="275" width="3" height="37" fill="#ff0000" />
<rect x="1245" y="222" width="1" height="86" fill="#ff0000" />
<rect x="1244" y="222" width="3" height="54" fill="#ff0000" />
<rect x="1249" y="204" width="1" height="65" fill="#ff0000" />
<rect x="1248" y="212" width="3" height="12" fill="#ff0000" />
<rect x="1253" y="200" width="1" height="22" fill="#ff0000" />
<rect x="1252" y="203" width="3" height="12" fill="#ff0000" />
<rect x="1257" y="205" width="1" height="44" fill="#00ff00" />
<rect x="1256" y="209" width="3" height="22" fill="#00ff00" />
<rect x="1261" y="221" width="1" height="59" fill="#00ff00" />
<rect x="1260" y="232" width="3" height="6" fill="#00ff00" />
<rect x="1265" y="223" width="1" height="31" fill="#00ff00" />
<rect x="1264" y="237" width="3" height="16" fill="#00ff00" />
<rect x="1269" y="244" width="1" height="26" fill="#00ff00" />
<rect x="1268" y="252" width="3" height="13" fill="#00ff00" />
<path d="M202 89h10v1h-10zM196 90h6v1h-6zM212 90h2v1h-2zM192 91h4v1h-4zM214 91h2v1h-2zM188 92h4v1h-4zM216 92h2v1h-2zM184 93h4v1h-4zM218 93h3v1h-3zM180 94h4v1h-4zM221 94h2v1h-2zM177 95h3v1h-3zM223 95h2v1h-2zM174 96h3v1h-3zM225 96h2v1h-2zM172 97h2v1h-2zM227 97h2v1h-2zM170 98h2v1h-2zM229 98h2v1h-2zM168 99h2v1h-2zM231 99h2v1h-2zM166 100h2v1h-2zM233 100h2v1h-2zM164 101h2v1h-2zM235 101h1v1h-1zM162 102h2v1h-2zM236 102h2v1h-2zM161 103h1v1h-1zM238 103h2v1h-2zM160 104h1v1h-1zM240 104h1v1h-1zM159 105h1v1h-1zM241 105h2v1h-2zM158 106h1v1h-1zM243 106h1v1h-1zM156 107h2v1h-2zM244 107h2v1h-2zM155 108h1v1h-1zM246 108h2v1h-2zM154 109h1v1h-1zM248 109h1v1h-1zM153 110h1v1h-1zM249 110h1v1h-1zM152 111h1v1h-1zM250 111h1v1h-1zM150 112h2v1h-2zM251 112h2v1h-2zM149 113h1v1h-1zM253 113h1v1h-1zM148 114h1v1h-1zM254 114h1v1h-1zM146 115h2v1h-2zM255 115h1v1h-1zM145 116h1v1h-1zM256 116h1v1h-1zM143 117h2v1h-2zM257 117h1v1h-1zM142 118h1v1h-1zM258 118h1v1h-1zM141 119h1v1h-1zM259 119h1v1h-1zM139 120h2v1h-2zM260 120h1v1h-1zM138 121h1v1h-1zM261 121h1v1h-1zM137 122h1v1h-1zM262 122h1v1h-1zM136 123h1v1h-1zM263 123h1v1h-1zM134 124h2v1h-2zM264 124h1v1h-1zM133 125h1v1h-1zM265 125h1v1h-1zM132 126h1v1h-1zM266 126h1v1h-1zM131 127h1v1h-1zM267 127h1v1h-1zM130 128h1v1h-1zM268 128h1v1h-1zM129 129h1v1h-1zM269 129h1v1h-1zM270 130h1v1h-1zM128 130h1v2h-1zM271 131h1v1h-1zM127 132h1v1h-1zM272 132h1v2h-1zM126 133h1v1h-1zM125 134h1v1h-1zM273 134h1v1h-1zM124 135h1v1h-1zM274 135h1v1h-1zM123 136h1v1h-1zM275 136h1v2h-1zM122 137h1v1h-1zM121 138h1v1h-1zM276 138h1v1h-1zM120 139h1v1h-1zM277 139h1v1h-1zM118 140h2v1h-2zM278 140h2v1h-2zM117 141h1v1h-1zM280 141h1v1h-1zM116 142h1v1h-1zM281 142h1v1h-1zM115 143h1v1h-1zM282 143h2v1h-2zM114 144h1v1h-1zM284 144h2v1h-2zM113 145h1v1h-1zM286 145h2v1h-2zM112 146h1v1h-1zM288 146h1v1h-1zM110 147h2v1h-2zM289 147h2v1h-2zM109 148h1v1h-1zM291 148h2v1h-2zM5 149h2v1h-2zM107 149h2v1h-2zM293 149h4v1h-4zM7 150h2v1h-2zM106 150h1v1h-1zM297 150h4v1h-4zM9 151h2v1h-2zM104 151h2v1h-2zM301 151h2v1h-2zM11 152h5v1h-5zM102 152h2v1h-2zM303 152h2v1h-2zM16 153h6v1h-6zM100 153h2v1h-2zM305 153h1v1h-1zM22 154h10v1h-10zM41 154h17v1h-17zM98 154h2v1h-2zM306 154h1v1h-1zM32 155h9v1h-9zM58 155h7v1h-7zM96 155h2v1h-2zM307 155h1v1h-1zM65 156h7v1h-7zM94 156h2v1h-2zM308 156h1v1h-1zM72 157h6v1h-6zM91 157h3v1h-3zM309 157h1v1h-1zM78 158h13v1h-13zM310 158h1v1h-1zM311 159h1v1h-1zM312 160h1v2h-1zM313 162h1v1h-1zM314 163h1v1h-1zM315 164h1v2h-1zM316 166h1v1h-1zM317 167h1v1h-1zM318 168h1v1h-1zM319 169h1v2h-1zM320 171h1v1h-1zM321 172h1v1h-1zM322 173h1v2h-1zM323 175h1v1h-1zM324 176h1v1h-1zM325 177h1v2h-1zM326 179h1v1h-1zM327 180h1v2h-1zM328 182h1v1h-1zM329 183h1v1h-1zM707 183h15v1h-15zM330 184h1v1h-1zM703 184h4v1h-4zM722 184h5v1h-5zM755 184h9v1h-9zM331 185h1v1h-1zM700 185h3v1h-3zM727 185h4v1h-4zM752 185h3v1h-3zM764 185h4v1h-4zM332 186h1v1h-1zM696 186h4v1h-4zM731 186h21v1h-21zM768 186h4v1h-4zM861 186h13v1h-13zM888 186h16v1h-16zM333 187h1v1h-1zM692 187h4v1h-4zM772 187h4v1h-4zM858 187h3v1h-3zM874 187h4v1h-4zM883 187h5v1h-5zM904 187h3v1h-3zM334 188h1v1h-1zM689 188h3v1h-3zM776 188h6v1h-6zM856 188h2v1h-2zM878 188h5v1h-5zM907 188h2v1h-2zM335 189h1v1h-1zM687 189h2v1h-2zM782 189h6v1h-6zM793 189h5v1h-5zM853 189h3v1h-3zM909 189h2v1h-2zM336 190h1v1h-1zM685 190h2v1h-2zM788 190h5v1h-5zM798 190h12v1h-12zM850 190h3v1h-3zM911 190h2v1h-2zM337 191h1v1h-1zM683 191h2v1h-2zM810 191h4v1h-4zM847 191h3v1h-3zM913 191h3v1h-3zM677 192h6v1h-6zM814 192h3v1h-3zM845 192h2v1h-2zM916 192h2v1h-2zM338 192h1v2h-1zM671 193h6v1h-6zM817 193h4v1h-4zM843 193h2v1h-2zM918 193h2v1h-2zM339 194h1v1h-1zM669 194h2v1h-2zM821 194h3v1h-3zM841 194h2v1h-2zM920 194h2v1h-2zM340 195h1v1h-1zM667 195h2v1h-2zM824 195h4v1h-4zM839 195h2v1h-2zM922 195h2v1h-2zM341 196h2v1h-2zM665 196h2v1h-2zM828 196h11v1h-11zM924 196h3v1h-3zM343 197h3v1h-3zM663 197h2v1h-2zM927 197h3v1h-3zM346 198h1v1h-1zM661 198h2v1h-2zM930 198h4v1h-4zM347 199h1v1h-1zM659 199h2v1h-2zM934 199h3v1h-3zM348 200h1v1h-1zM658 200h1v1h-1zM937 200h4v1h-4zM349 201h1v1h-1zM656 201h2v1h-2zM941 201h3v1h-3zM350 202h1v1h-1zM655 202h1v1h-1zM944 202h3v1h-3zM351 203h1v1h-1zM653 203h2v1h-2zM947 203h3v1h-3zM352 204h1v1h-1zM652 204h1v1h-1zM950 204h2v1h-2zM353 205h2v1h-2zM650 205h2v1h-2zM952 205h2v1h-2zM355 206h1v1h-1zM648 206h2v1h-2zM954 206h2v1h-2zM356 207h1v1h-1zM646 207h2v1h-2zM956 207h2v1h-2zM357 208h2v1h-2zM644 208h2v1h-2zM958 208h2v1h-2zM359 209h2v1h-2zM642 209h2v1h-2zM960 209h2v1h-2zM361 210h4v1h-4zM456 210h8v1h-8zM638 210h4v1h-4zM962 210h1v1h-1zM365 211h26v1h-26zM454 211h2v1h-2zM464 211h3v1h-3zM634 211h4v1h-4zM963 211h1v1h-1zM452 212h2v1h-2zM467 212h2v1h-2zM630 212h4v1h-4zM964 212h1v1h-1zM391 212h1v2h-1zM450 213h2v1h-2zM469 213h2v1h-2zM628 213h2v1h-2zM965 213h1v1h-1zM392 214h5v1h-5zM449 214h1v1h-1zM471 214h2v1h-2zM626 214h2v1h-2zM966 214h1v1h-1zM397 215h6v1h-6zM447 215h2v1h-2zM473 215h2v1h-2zM624 215h2v1h-2zM967 215h1v2h-1zM403 216h2v1h-2zM446 216h1v1h-1zM475 216h1v1h-1zM622 216h2v1h-2zM405 217h2v1h-2zM444 217h2v1h-2zM476 217h2v1h-2zM620 217h2v1h-2zM968 217h1v1h-1zM407 218h2v1h-2zM443 218h1v1h-1zM478 218h1v1h-1zM619 218h1v1h-1zM969 218h1v1h-1zM409 219h2v1h-2zM441 219h2v1h-2zM479 219h1v1h-1zM618 219h1v1h-1zM970 219h1v1h-1zM411 220h2v1h-2zM439 220h2v1h-2zM480 220h2v1h-2zM616 220h2v1h-2zM971 220h1v1h-1zM413 221h1v1h-1zM437 221h2v1h-2zM482 221h1v1h-1zM615 221h1v1h-1zM972 221h1v1h-1zM414 222h2v1h-2zM435 222h2v1h-2zM483 222h2v1h-2zM614 222h1v1h-1zM973 222h1v1h-1zM416 223h2v1h-2zM433 223h2v1h-2zM485 223h1v1h-1zM613 223h1v1h-1zM974 223h1v1h-1zM418 224h1v1h-1zM432 224h1v1h-1zM486 224h2v1h-2zM611 224h2v1h-2zM975 224h1v1h-1zM419 225h2v1h-2zM430 225h2v1h-2zM488 225h2v1h-2zM610 225h1v1h-1zM976 225h1v1h-1zM421 226h2v1h-2zM429 226h1v1h-1zM490 226h1v1h-1zM609 226h1v1h-1zM977 226h1v1h-1zM423 227h2v1h-2zM427 227h2v1h-2zM491 227h2v1h-2zM607 227h2v1h-2zM978 227h1v1h-1zM425 228h2v1h-2zM493 228h2v1h-2zM606 228h1v1h-1zM979 228h1v1h-1zM495 229h2v1h-2zM605 229h1v1h-1zM980 229h1v1h-1zM497 230h3v1h-3zM604 230h1v1h-1zM981 230h1v1h-1zM500 231h2v1h-2zM603 231h1v1h-1zM982 231h1v1h-1zM502 232h2v1h-2zM602 232h1v1h-1zM983 232h1v1h-1zM504 233h3v1h-3zM601 233h1v1h-1zM984 233h1v1h-1zM507 234h4v1h-4zM599 234h2v1h-2zM985 234h1v1h-1zM511 235h3v1h-3zM597 235h2v1h-2zM986 235h1v2h-1zM514 236h4v1h-4zM595 236h2v1h-2zM518 237h6v1h-6zM593 237h2v1h-2zM987 237h1v1h-1zM524 238h6v1h-6zM592 238h1v1h-1zM988 238h1v1h-1zM530 239h4v1h-4zM591 239h1v1h-1zM989 239h1v1h-1zM534 240h5v1h-5zM589 240h2v1h-2zM990 240h1v1h-1zM539 241h7v1h-7zM587 241h2v1h-2zM991 241h1v1h-1zM546 242h8v1h-8zM585 242h2v1h-2zM992 242h1v1h-1zM554 243h6v1h-6zM583 243h2v1h-2zM993 243h2v1h-2zM560 244h4v1h-4zM581 244h2v1h-2zM995 244h1v1h-1zM564 245h5v1h-5zM576 245h5v1h-5zM996 245h2v1h-2zM569 246h7v1h-7zM998 246h1v1h-1zM999 247h2v1h-2zM1001 248h1v1h-1zM1002 249h2v1h-2zM1004 250h2v1h-2zM1006 251h2v1h-2zM1008 252h2v1h-2zM1010 253h2v1h-2zM1012 254h1v1h-1zM1013 255h2v1h-2zM1015 256h1v1h-1zM1016 257h2v1h-2zM1018 258h2v1h-2zM1020 259h1v1h-1zM1021 260h1v1h-1zM1022 261h1v1h-1zM1023 262h1v1h-1zM1024 263h1v1h-1zM1025 264h2v1h-2zM1027 265h1v1h-1zM1168 265h8v1h-8zM1028 266h1v1h-1zM1164 266h4v1h-4zM1176 266h7v1h-7zM1029 267h1v1h-1zM1162 267h2v1h-2zM1183 267h2v1h-2zM1030 268h1v1h-1zM1160 268h2v1h-2zM1185 268h3v1h-3zM1031 269h2v1h-2zM1157 269h3v1h-3zM1188 269h2v1h-2zM1033 270h2v1h-2zM1154 270h3v1h-3zM1190 270h1v1h-1zM1035 271h2v1h-2zM1152 271h2v1h-2zM1191 271h1v1h-1zM1037 272h2v1h-2zM1150 272h2v1h-2zM1192 272h2v1h-2zM1039 273h2v1h-2zM1148 273h2v1h-2zM1194 273h1v1h-1zM1041 274h2v1h-2zM1147 274h1v1h-1zM1195 274h1v1h-1zM1043 275h3v1h-3zM1145 275h2v1h-2zM1196 275h1v1h-1zM1046 276h3v1h-3zM1144 276h1v1h-1zM1197 276h1v1h-1zM1049 277h3v1h-3zM1142 277h2v1h-2zM1198 277h1v1h-1zM1052 278h2v1h-2zM1140 278h2v1h-2zM1199 278h1v1h-1zM1054 279h2v1h-2zM1138 279h2v1h-2zM1200 279h2v1h-2zM1056 280h2v1h-2zM1136 280h2v1h-2zM1202 280h1v1h-1zM1058 281h3v1h-3zM1134 281h2v1h-2zM1203 281h1v1h-1zM1061 282h2v1h-2zM1132 282h2v1h-2zM1204 282h1v1h-1zM1063 283h2v1h-2zM1128 283h4v1h-4zM1205 283h1v1h-1zM1065 284h2v1h-2zM1124 284h4v1h-4zM1206 284h1v1h-1zM1067 285h4v1h-4zM1118 285h6v1h-6zM1207 285h1v1h-1zM1071 286h5v1h-5zM1112 286h6v1h-6zM1208 286h1v2h-1zM1076 287h2v1h-2zM1108 287h4v1h-4zM1078 288h2v1h-2zM1104 288h4v1h-4zM1209 288h1v1h-1zM1080 289h4v1h-4zM1100 289h4v1h-4zM1210 289h1v2h-1zM1084 290h4v1h-4zM1094 290h6v1h-6zM1088 291h6v1h-6zM1211 291h1v2h-1zM1212 293h1v1h-1zM1213 294h1v2h-1zM1214 296h1v1h-1zM1215 297h1v2h-1zM1216 299h1v1h-1zM1217 300h1v1h-1zM1218 301h2v1h-2zM1220 302h1v1h-1zM1221 303h1v1h-1zM1222 304h1v1h-1zM1223 305h1v1h-1zM1224 306h1v1h-1zM1225 307h1v1h-1zM1226 308h1v1h-1zM1227 309h1v1h-1zM1228 310h2v1h-2zM1230 311h1v1h-1zM1231 312h1v1h-1zM1232 313h1v1h-1zM1233 314h1v1h-1zM1251 314h17v1h-17zM1234 315h2v1h-2zM1244 315h7v1h-7zM1268 315h2v1h-2zM1236 316h8v1h-8z" fill="#0000cd"/>
<path d="M160 71h2v1h-2zM157 72h3v1h-3zM162 72h2v1h-2zM154 73h3v1h-3zM164 73h2v1h-2zM152 74h2v1h-2zM166 74h1v1h-1zM148 75h4v1h-4zM167 75h2v1h-2zM145 76h3v1h-3zM169 76h2v1h-2zM143 77h2v1h-2zM171 77h1v1h-1zM141 78h2v1h-2zM172 78h1v1h-1zM140 79h1v1h-1zM173 79h1v1h-1zM139 80h1v1h-1zM174 80h2v1h-2zM138 81h1v1h-1zM176 81h1v1h-1zM137 82h1v1h-1zM177 82h1v1h-1zM136 83h1v1h-1zM178 83h1v1h-1zM135 84h1v1h-1zM179 84h1v1h-1zM134 85h1v1h-1zM180 85h1v1h-1zM181 86h2v1h-2zM133 86h1v2h-1zM183 87h1v1h-1zM132 88h1v1h-1zM184 88h1v1h-1zM131 89h1v1h-1zM185 89h1v1h-1zM130 90h1v1h-1zM186 90h1v1h-1zM129 91h1v1h-1zM187 91h2v1h-2zM189 92h1v1h-1zM128 92h1v2h-1zM190 93h5v1h-5zM127 94h1v1h-1zM195 94h1v1h-1zM126 95h1v1h-1zM196 95h2v1h-2zM125 96h1v1h-1zM198 96h1v1h-1zM199 97h1v1h-1zM124 97h1v2h-1zM200 98h1v1h-1zM201 99h1v1h-1zM123 99h1v2h-1zM202 100h2v1h-2zM122 101h1v1h-1zM204 101h3v1h-3zM207 102h2v1h-2zM121 102h1v2h-1zM209 103h1v2h-1zM120 104h1v1h-1zM119 105h1v1h-1zM210 105h1v1h-1zM118 106h1v2h-1zM211 106h1v2h-1zM117 108h1v1h-1zM212 108h1v1h-1zM116 109h1v1h-1zM213 109h1v2h-1zM115 110h1v1h-1zM214 111h1v1h-1zM114 111h1v2h-1zM215 112h1v1h-1zM113 113h1v1h-1zM216 113h1v1h-1zM112 114h1v1h-1zM217 114h1v2h-1zM111 115h1v2h-1zM218 116h1v1h-1zM110 117h1v1h-1zM219 117h1v1h-1zM109 118h1v1h-1zM220 118h2v1h-2zM222 119h2v1h-2zM108 119h1v2h-1zM224 120h3v1h-3zM107 121h1v1h-1zM227 121h6v1h-6zM106 122h1v1h-1zM233 122h6v1h-6zM239 123h1v1h-1zM105 123h1v2h-1zM240 124h1v1h-1zM241 125h1v1h-1zM104 125h1v2h-1zM242 126h2v1h-2zM244 127h2v1h-2zM103 127h1v2h-1zM246 128h2v1h-2zM102 129h1v1h-1zM248 129h2v1h-2zM101 130h1v2h-1zM250 130h1v2h-1zM251 132h1v1h-1zM100 132h1v2h-1zM252 133h1v1h-1zM99 134h1v1h-1zM253 134h1v2h-1zM98 135h1v1h-1zM254 136h1v1h-1zM97 136h1v2h-1zM255 137h1v1h-1zM96 138h1v1h-1zM256 138h1v1h-1zM95 139h1v1h-1zM257 139h1v2h-1zM94 140h1v2h-1zM258 141h1v1h-1zM93 142h1v1h-1zM259 142h1v1h-1zM92 143h1v2h-1zM260 143h1v2h-1zM91 145h1v1h-1zM261 145h1v2h-1zM5 146h1v1h-1zM90 146h1v2h-1zM6 147h1v1h-1zM262 147h1v2h-1zM7 148h1v1h-1zM89 148h1v1h-1zM8 149h1v1h-1zM87 149h2v1h-2zM263 149h1v2h-1zM9 150h1v1h-1zM86 150h1v1h-1zM10 151h1v1h-1zM85 151h1v1h-1zM264 151h1v2h-1zM11 152h1v1h-1zM83 152h2v1h-2zM82 153h1v1h-1zM12 153h1v2h-1zM265 153h1v2h-1zM81 154h1v1h-1zM13 155h1v1h-1zM79 155h2v1h-2zM266 155h1v1h-1zM14 156h1v1h-1zM78 156h1v1h-1zM267 156h1v1h-1zM15 157h1v1h-1zM76 157h2v1h-2zM268 157h1v2h-1zM16 158h1v1h-1zM75 158h1v1h-1zM73 159h2v1h-2zM269 159h1v1h-1zM17 159h1v2h-1zM71 160h2v1h-2zM270 160h1v1h-1zM18 161h1v1h-1zM70 161h1v1h-1zM271 161h1v1h-1zM19 162h1v1h-1zM68 162h2v1h-2zM272 162h1v2h-1zM20 163h2v1h-2zM66 163h2v1h-2zM22 164h1v1h-1zM65 164h1v1h-1zM273 164h1v1h-1zM23 165h2v1h-2zM64 165h1v1h-1zM274 165h1v1h-1zM25 166h1v1h-1zM63 166h1v1h-1zM275 166h1v1h-1zM26 167h1v1h-1zM62 167h1v1h-1zM276 167h1v1h-1zM27 168h2v1h-2zM60 168h2v1h-2zM277 168h1v1h-1zM29 169h1v1h-1zM56 169h4v1h-4zM278 169h2v1h-2zM30 170h2v1h-2zM53 170h3v1h-3zM280 170h1v1h-1zM32 171h3v1h-3zM51 171h2v1h-2zM281 171h1v1h-1zM35 172h3v1h-3zM49 172h2v1h-2zM282 172h2v1h-2zM711 172h4v1h-4zM38 173h3v1h-3zM45 173h4v1h-4zM284 173h2v1h-2zM707 173h4v1h-4zM715 173h1v1h-1zM41 174h4v1h-4zM286 174h1v1h-1zM704 174h3v1h-3zM716 174h2v1h-2zM287 175h1v1h-1zM702 175h2v1h-2zM718 175h1v1h-1zM288 176h1v1h-1zM699 176h3v1h-3zM719 176h1v1h-1zM289 177h1v1h-1zM696 177h3v1h-3zM720 177h1v1h-1zM290 178h1v1h-1zM694 178h2v1h-2zM721 178h1v1h-1zM871 178h13v1h-13zM291 179h2v1h-2zM692 179h2v1h-2zM722 179h2v1h-2zM869 179h2v1h-2zM884 179h12v1h-12zM293 180h2v1h-2zM691 180h1v1h-1zM724 180h1v1h-1zM868 180h1v1h-1zM896 180h1v1h-1zM295 181h2v1h-2zM689 181h2v1h-2zM725 181h1v1h-1zM866 181h2v1h-2zM897 181h2v1h-2zM297 182h8v1h-8zM688 182h1v1h-1zM726 182h1v1h-1zM865 182h1v1h-1zM899 182h1v1h-1zM305 183h2v1h-2zM687 183h1v1h-1zM727 183h1v1h-1zM864 183h1v1h-1zM900 183h1v1h-1zM307 184h2v1h-2zM683 184h4v1h-4zM728 184h2v1h-2zM862 184h2v1h-2zM901 184h1v1h-1zM309 185h1v1h-1zM675 185h8v1h-8zM730 185h1v1h-1zM859 185h3v1h-3zM902 185h1v1h-1zM668 186h7v1h-7zM731 186h2v1h-2zM855 186h4v1h-4zM310 186h1v2h-1zM903 186h1v2h-1zM664 187h4v1h-4zM733 187h2v1h-2zM853 187h2v1h-2zM311 188h1v1h-1zM661 188h3v1h-3zM735 188h4v1h-4zM842 188h5v1h-5zM851 188h2v1h-2zM904 188h1v1h-1zM312 189h1v1h-1zM658 189h3v1h-3zM739 189h7v1h-7zM838 189h4v1h-4zM847 189h4v1h-4zM905 189h1v1h-1zM313 190h1v1h-1zM655 190h3v1h-3zM746 190h6v1h-6zM798 190h6v1h-6zM835 190h3v1h-3zM906 190h1v1h-1zM314 191h1v1h-1zM653 191h2v1h-2zM752 191h6v1h-6zM795 191h3v1h-3zM804 191h3v1h-3zM831 191h4v1h-4zM907 191h1v1h-1zM315 192h2v1h-2zM651 192h2v1h-2zM758 192h3v1h-3zM793 192h2v1h-2zM807 192h3v1h-3zM828 192h3v1h-3zM908 192h1v1h-1zM317 193h1v1h-1zM646 193h5v1h-5zM761 193h2v1h-2zM791 193h2v1h-2zM810 193h4v1h-4zM824 193h4v1h-4zM909 193h1v1h-1zM318 194h1v1h-1zM631 194h15v1h-15zM763 194h2v1h-2zM789 194h2v1h-2zM814 194h10v1h-10zM910 194h1v1h-1zM319 195h1v1h-1zM628 195h3v1h-3zM765 195h1v1h-1zM787 195h2v1h-2zM911 195h1v1h-1zM320 196h1v1h-1zM626 196h2v1h-2zM766 196h1v1h-1zM785 196h2v1h-2zM912 196h1v1h-1zM321 197h1v1h-1zM624 197h2v1h-2zM767 197h1v1h-1zM783 197h2v1h-2zM913 197h1v1h-1zM623 198h1v1h-1zM768 198h1v1h-1zM781 198h2v1h-2zM914 198h1v1h-1zM322 198h1v2h-1zM621 199h2v1h-2zM769 199h1v1h-1zM778 199h3v1h-3zM915 199h1v2h-1zM323 200h1v1h-1zM619 200h2v1h-2zM770 200h8v1h-8zM324 201h1v1h-1zM616 201h3v1h-3zM916 201h1v1h-1zM325 202h1v1h-1zM611 202h5v1h-5zM917 202h1v1h-1zM326 203h1v1h-1zM607 203h4v1h-4zM918 203h1v1h-1zM327 204h1v1h-1zM603 204h4v1h-4zM919 204h1v2h-1zM601 205h2v1h-2zM328 205h1v2h-1zM401 206h6v1h-6zM600 206h1v1h-1zM920 206h1v1h-1zM329 207h1v1h-1zM395 207h6v1h-6zM407 207h2v1h-2zM599 207h1v1h-1zM921 207h1v1h-1zM330 208h1v1h-1zM394 208h1v1h-1zM409 208h2v1h-2zM452 208h3v1h-3zM597 208h2v1h-2zM922 208h1v2h-1zM331 209h1v1h-1zM393 209h1v1h-1zM411 209h2v1h-2zM450 209h2v1h-2zM455 209h4v1h-4zM596 209h1v1h-1zM392 210h1v1h-1zM413 210h2v1h-2zM447 210h3v1h-3zM459 210h2v1h-2zM595 210h1v1h-1zM923 210h1v1h-1zM332 210h1v2h-1zM391 211h1v1h-1zM415 211h2v1h-2zM445 211h2v1h-2zM461 211h2v1h-2zM594 211h1v1h-1zM924 211h1v1h-1zM417 212h1v1h-1zM443 212h2v1h-2zM463 212h1v1h-1zM593 212h1v1h-1zM925 212h1v1h-1zM333 212h1v2h-1zM390 212h1v2h-1zM418 213h1v1h-1zM441 213h2v1h-2zM464 213h2v1h-2zM592 213h1v1h-1zM926 213h1v1h-1zM389 214h1v1h-1zM419 214h2v1h-2zM439 214h2v1h-2zM466 214h2v1h-2zM927 214h1v1h-1zM334 214h1v2h-1zM591 214h1v2h-1zM388 215h1v1h-1zM421 215h1v1h-1zM437 215h2v1h-2zM468 215h1v1h-1zM928 215h1v1h-1zM386 216h2v1h-2zM422 216h2v1h-2zM435 216h2v1h-2zM469 216h1v1h-1zM590 216h1v1h-1zM929 216h1v1h-1zM335 216h1v2h-1zM385 217h1v1h-1zM424 217h2v1h-2zM433 217h2v1h-2zM470 217h2v1h-2zM589 217h1v1h-1zM930 217h1v1h-1zM336 218h1v1h-1zM383 218h2v1h-2zM426 218h2v1h-2zM430 218h3v1h-3zM472 218h1v1h-1zM588 218h1v1h-1zM931 218h1v1h-1zM337 219h1v1h-1zM382 219h1v1h-1zM428 219h2v1h-2zM473 219h1v1h-1zM932 219h2v1h-2zM587 219h1v2h-1zM474 220h2v1h-2zM934 220h2v1h-2zM338 220h1v2h-1zM381 220h1v2h-1zM476 221h1v1h-1zM586 221h1v1h-1zM936 221h2v1h-2zM339 222h1v1h-1zM380 222h1v1h-1zM477 222h1v1h-1zM585 222h1v1h-1zM938 222h1v1h-1zM340 223h1v1h-1zM478 223h1v1h-1zM939 223h2v1h-2zM379 223h1v2h-1zM584 223h1v2h-1zM479 224h1v1h-1zM941 224h2v1h-2zM341 224h1v2h-1zM378 225h1v1h-1zM480 225h1v1h-1zM583 225h1v1h-1zM943 225h2v1h-2zM342 226h1v1h-1zM377 226h1v1h-1zM481 226h1v1h-1zM581 226h2v1h-2zM945 226h1v1h-1zM343 227h1v1h-1zM376 227h1v1h-1zM482 227h1v1h-1zM578 227h3v1h-3zM946 227h1v1h-1zM344 228h1v1h-1zM575 228h3v1h-3zM947 228h2v1h-2zM375 228h1v2h-1zM483 228h1v2h-1zM345 229h1v1h-1zM573 229h2v1h-2zM949 229h1v1h-1zM374 230h1v1h-1zM484 230h1v1h-1zM570 230h3v1h-3zM950 230h1v1h-1zM346 230h1v2h-1zM373 231h1v1h-1zM485 231h1v1h-1zM566 231h4v1h-4zM951 231h2v1h-2zM347 232h1v1h-1zM372 232h1v1h-1zM486 232h1v1h-1zM564 232h2v1h-2zM953 232h4v1h-4zM348 233h1v1h-1zM371 233h1v1h-1zM563 233h1v1h-1zM957 233h2v1h-2zM487 233h1v2h-1zM349 234h1v1h-1zM370 234h1v1h-1zM562 234h1v1h-1zM959 234h1v2h-1zM350 235h1v1h-1zM561 235h1v1h-1zM369 235h1v2h-1zM488 235h1v2h-1zM351 236h1v1h-1zM560 236h1v1h-1zM960 236h1v1h-1zM352 237h1v1h-1zM368 237h1v1h-1zM489 237h1v1h-1zM559 237h1v1h-1zM961 237h1v2h-1zM353 238h1v1h-1zM367 238h1v1h-1zM558 238h1v1h-1zM490 238h1v2h-1zM354 239h1v1h-1zM366 239h1v1h-1zM557 239h1v1h-1zM962 239h1v1h-1zM355 240h1v1h-1zM364 240h2v1h-2zM491 240h1v1h-1zM556 240h1v1h-1zM963 240h1v1h-1zM356 241h3v1h-3zM362 241h2v1h-2zM555 241h1v1h-1zM964 241h1v1h-1zM492 241h1v2h-1zM359 242h3v1h-3zM554 242h1v1h-1zM965 242h1v1h-1zM553 243h1v1h-1zM966 243h2v1h-2zM493 243h1v2h-1zM552 244h1v1h-1zM968 244h1v1h-1zM494 245h1v1h-1zM551 245h1v1h-1zM969 245h1v1h-1zM495 246h1v1h-1zM550 246h1v1h-1zM970 246h1v1h-1zM1158 246h13v1h-13zM971 247h1v1h-1zM1153 247h5v1h-5zM1171 247h2v1h-2zM496 247h1v2h-1zM549 247h1v2h-1zM1151 248h2v1h-2zM1173 248h2v1h-2zM972 248h1v2h-1zM497 249h1v1h-1zM548 249h1v1h-1zM1149 249h2v1h-2zM1175 249h1v1h-1zM498 250h1v1h-1zM547 250h1v1h-1zM973 250h1v1h-1zM1148 250h1v1h-1zM1176 250h1v1h-1zM546 251h1v1h-1zM974 251h1v1h-1zM1177 251h1v1h-1zM499 251h1v2h-1zM1147 251h1v2h-1zM545 252h1v1h-1zM1178 252h1v1h-1zM975 252h1v2h-1zM500 253h1v1h-1zM543 253h2v1h-2zM1146 253h1v1h-1zM1179 253h1v1h-1zM501 254h1v1h-1zM542 254h1v1h-1zM976 254h1v1h-1zM1145 254h1v1h-1zM1180 254h1v1h-1zM541 255h1v1h-1zM977 255h1v1h-1zM1144 255h1v1h-1zM1181 255h1v1h-1zM502 255h1v2h-1zM539 256h2v1h-2zM978 256h1v1h-1zM1143 256h1v2h-1zM1182 256h1v2h-1zM503 257h1v1h-1zM537 257h2v1h-2zM979 257h1v1h-1zM504 258h1v1h-1zM535 258h2v1h-2zM980 258h1v1h-1zM1142 258h1v1h-1zM1183 258h1v2h-1zM528 259h7v1h-7zM981 259h1v1h-1zM505 259h1v2h-1zM1141 259h1v2h-1zM526 260h2v1h-2zM982 260h1v1h-1zM1184 260h1v2h-1zM506 261h1v1h-1zM524 261h2v1h-2zM983 261h2v1h-2zM1140 261h1v1h-1zM507 262h1v1h-1zM522 262h2v1h-2zM985 262h2v1h-2zM1139 262h1v2h-1zM1185 262h1v2h-1zM508 263h1v1h-1zM521 263h1v1h-1zM987 263h2v1h-2zM509 264h6v1h-6zM520 264h1v1h-1zM989 264h2v1h-2zM1138 264h1v1h-1zM1186 264h1v2h-1zM515 265h2v1h-2zM518 265h2v1h-2zM991 265h1v1h-1zM1137 265h1v1h-1zM517 266h1v1h-1zM992 266h1v1h-1zM1136 266h1v2h-1zM1187 266h1v2h-1zM993 267h1v1h-1zM994 268h1v1h-1zM1135 268h1v1h-1zM1188 268h1v2h-1zM995 269h1v1h-1zM1134 269h1v1h-1zM996 270h1v1h-1zM1133 270h1v2h-1zM1189 270h1v3h-1zM997 271h1v1h-1zM998 272h1v1h-1zM1132 272h1v1h-1zM999 273h1v1h-1zM1131 273h1v1h-1zM1190 273h1v2h-1zM1000 274h1v1h-1zM1129 274h2v1h-2zM1001 275h1v1h-1zM1126 275h3v1h-3zM1191 275h1v3h-1zM1002 276h1v1h-1zM1124 276h2v1h-2zM1003 277h1v1h-1zM1121 277h3v1h-3zM1004 278h1v1h-1zM1119 278h2v1h-2zM1192 278h1v2h-1zM1005 279h2v1h-2zM1117 279h2v1h-2zM1007 280h2v1h-2zM1115 280h2v1h-2zM1193 280h1v2h-1zM1009 281h2v1h-2zM1113 281h2v1h-2zM1011 282h2v1h-2zM1111 282h2v1h-2zM1194 282h1v2h-1zM1013 283h2v1h-2zM1109 283h2v1h-2zM1015 284h3v1h-3zM1107 284h2v1h-2zM1195 284h1v2h-1zM1018 285h3v1h-3zM1105 285h2v1h-2zM1021 286h3v1h-3zM1103 286h2v1h-2zM1196 286h1v3h-1zM1024 287h2v1h-2zM1101 287h2v1h-2zM1026 288h2v1h-2zM1100 288h1v1h-1zM1028 289h15v1h-15zM1098 289h2v1h-2zM1197 289h1v2h-1zM1043 290h2v1h-2zM1097 290h1v1h-1zM1045 291h2v1h-2zM1072 291h4v1h-4zM1093 291h4v1h-4zM1198 291h1v2h-1zM1047 292h11v1h-11zM1071 292h1v1h-1zM1076 292h17v1h-17zM1058 293h13v1h-13zM1199 293h1v3h-1zM1269 294h1v5h-1zM1200 296h1v2h-1zM1201 298h1v4h-1zM1268 299h1v3h-1zM1267 302h1v2h-1zM1202 302h1v4h-1zM1266 304h1v3h-1zM1203 306h1v5h-1zM1265 307h1v3h-1zM1264 310h1v3h-1zM1204 311h1v4h-1zM1263 313h1v4h-1zM1205 315h1v4h-1zM1262 317h1v4h-1zM1206 319h1v5h-1zM1261 321h1v4h-1zM1207 324h1v4h-1zM1260 325h1v4h-1zM1208 328h1v4h-1zM1259 329h1v3h-1zM1209 332h1v3h-1zM1258 332h1v4h-1zM1210 335h1v2h-1zM1257 336h1v3h-1zM1211 337h1v3h-1zM1256 339h1v3h-1zM1212 340h1v3h-1zM1255 342h1v4h-1zM1213 343h1v3h-1zM1214 346h1v3h-1zM1254 346h1v3h-1zM1215 349h1v3h-1zM1253 349h1v3h-1zM1216 352h1v2h-1zM1252 352h1v4h-1zM1217 354h1v3h-1zM1251 356h1v3h-1zM1218 357h1v3h-1zM1250 359h1v3h-1zM1219 360h1v3h-1zM1249 362h1v3h-1zM1220 363h1v2h-1zM1221 365h1v2h-1zM1248 365h1v3h-1zM1222 367h1v2h-1zM1247 368h1v3h-1zM1223 369h1v2h-1zM1224 371h1v2h-1zM1246 371h1v2h-1zM1225 373h1v1h-1zM1245 373h1v3h-1zM1226 374h1v2h-1zM1227 376h1v1h-1zM1244 376h1v2h-1zM1228 377h1v2h-1zM1243 378h1v2h-1zM1229 379h1v2h-1zM1242 380h1v1h-1zM1230 381h1v1h-1zM1241 381h1v2h-1zM1231 382h1v1h-1zM1240 383h1v1h-1zM1232 383h1v2h-1zM1239 384h1v2h-1zM1233 385h1v1h-1zM1234 386h5v1h-5z" fill="#ff0000"/>
<path d="M132 67h1v1h-1zM125 68h3v1h-3zM131 68h1v1h-1zM133 68h1v1h-1zM124 69h1v1h-1zM128 69h3v1h-3zM134 69h1v1h-1zM122 70h2v1h-2zM135 70h1v1h-1zM121 71h1v1h-1zM136 71h1v1h-1zM120 72h1v1h-1zM137 72h1v1h-1zM160 72h2v1h-2zM119 73h1v1h-1zM138 73h2v1h-2zM158 73h2v1h-2zM162 73h1v1h-1zM140 74h2v1h-2zM163 74h2v1h-2zM118 74h1v2h-1zM157 74h1v2h-1zM142 75h2v1h-2zM165 75h1v1h-1zM117 76h1v1h-1zM144 76h7v1h-7zM156 76h1v1h-1zM166 76h1v1h-1zM116 77h1v1h-1zM151 77h1v1h-1zM167 77h1v1h-1zM155 77h1v2h-1zM115 78h1v1h-1zM152 78h2v1h-2zM168 78h1v2h-1zM113 79h2v1h-2zM154 79h1v1h-1zM111 80h2v1h-2zM169 80h1v1h-1zM170 81h1v1h-1zM110 81h1v2h-1zM171 82h1v2h-1zM109 83h1v2h-1zM172 84h1v1h-1zM108 85h1v2h-1zM173 85h1v2h-1zM107 87h1v2h-1zM174 87h1v2h-1zM106 89h1v2h-1zM175 89h1v4h-1zM105 91h1v2h-1zM104 93h1v2h-1zM176 93h1v4h-1zM103 95h1v2h-1zM102 97h1v2h-1zM177 97h1v2h-1zM101 99h1v2h-1zM178 99h1v2h-1zM100 101h1v2h-1zM179 101h1v3h-1zM99 103h1v3h-1zM180 104h1v2h-1zM98 106h1v2h-1zM181 106h1v2h-1zM182 108h1v2h-1zM97 108h1v3h-1zM183 110h1v1h-1zM184 111h2v1h-2zM198 111h12v1h-12zM96 111h1v3h-1zM186 112h5v1h-5zM196 112h2v1h-2zM210 112h1v2h-1zM191 113h2v1h-2zM195 113h1v1h-1zM193 114h2v1h-2zM211 114h1v1h-1zM95 114h1v2h-1zM212 115h1v1h-1zM94 116h1v2h-1zM213 116h1v2h-1zM214 118h1v1h-1zM93 118h1v2h-1zM215 119h1v2h-1zM92 120h1v4h-1zM216 121h1v2h-1zM217 123h1v2h-1zM91 124h1v4h-1zM218 125h1v2h-1zM219 127h1v2h-1zM90 128h1v4h-1zM220 129h1v1h-1zM240 129h2v1h-2zM239 130h1v1h-1zM242 130h3v1h-3zM221 130h1v2h-1zM237 131h2v1h-2zM245 131h1v2h-1zM222 132h1v1h-1zM236 132h1v1h-1zM89 132h1v2h-1zM223 133h1v1h-1zM235 133h1v1h-1zM246 133h1v1h-1zM234 134h1v1h-1zM88 134h1v2h-1zM224 134h1v2h-1zM247 134h1v2h-1zM232 135h2v1h-2zM225 136h3v1h-3zM231 136h1v1h-1zM87 136h1v2h-1zM248 136h1v2h-1zM228 137h3v1h-3zM86 138h1v1h-1zM249 138h1v2h-1zM85 139h1v1h-1zM84 140h1v1h-1zM250 140h1v2h-1zM83 141h1v1h-1zM82 142h1v1h-1zM251 142h1v3h-1zM81 143h1v1h-1zM80 144h1v1h-1zM79 145h1v1h-1zM252 145h1v3h-1zM78 146h1v1h-1zM77 147h1v1h-1zM76 148h1v1h-1zM253 148h1v2h-1zM74 149h2v1h-2zM72 150h2v1h-2zM254 150h1v3h-1zM70 151h2v1h-2zM68 152h2v1h-2zM66 153h2v1h-2zM255 153h1v2h-1zM64 154h2v1h-2zM61 155h3v1h-3zM256 155h1v3h-1zM58 156h3v1h-3zM56 157h2v1h-2zM54 158h2v1h-2zM869 158h1v1h-1zM257 158h1v4h-1zM51 159h3v1h-3zM867 159h2v1h-2zM870 159h1v1h-1zM49 160h2v1h-2zM866 160h1v1h-1zM871 160h1v2h-1zM48 161h1v1h-1zM865 161h1v1h-1zM47 162h1v1h-1zM863 162h2v1h-2zM872 162h1v2h-1zM258 162h1v4h-1zM45 163h2v1h-2zM862 163h1v1h-1zM44 164h1v1h-1zM301 164h3v1h-3zM860 164h2v1h-2zM873 164h1v2h-1zM43 165h1v1h-1zM300 165h1v1h-1zM304 165h2v1h-2zM859 165h1v1h-1zM306 165h1v2h-1zM42 166h1v1h-1zM299 166h1v1h-1zM858 166h1v2h-1zM874 166h1v2h-1zM259 166h1v4h-1zM40 167h2v1h-2zM298 167h1v2h-1zM307 167h1v3h-1zM39 168h1v1h-1zM710 168h2v1h-2zM857 168h1v1h-1zM875 168h1v2h-1zM38 169h1v1h-1zM297 169h1v1h-1zM709 169h1v1h-1zM712 169h3v1h-3zM856 169h1v1h-1zM36 170h2v1h-2zM296 170h1v1h-1zM707 170h2v1h-2zM308 170h1v2h-1zM715 170h1v2h-1zM855 170h1v2h-1zM260 170h1v3h-1zM876 170h1v3h-1zM35 171h1v1h-1zM295 171h1v1h-1zM673 171h2v1h-2zM706 171h1v1h-1zM34 172h1v1h-1zM675 172h2v1h-2zM680 172h2v1h-2zM705 172h1v1h-1zM854 172h1v1h-1zM294 172h1v2h-1zM672 172h1v2h-1zM716 172h1v2h-1zM309 172h1v3h-1zM32 173h2v1h-2zM677 173h3v1h-3zM682 173h1v1h-1zM703 173h2v1h-2zM853 173h1v2h-1zM877 173h1v2h-1zM261 173h1v3h-1zM5 174h1v1h-1zM31 174h1v1h-1zM671 174h1v1h-1zM683 174h2v1h-2zM701 174h2v1h-2zM293 174h1v2h-1zM717 174h1v2h-1zM30 175h1v1h-1zM670 175h1v1h-1zM685 175h1v1h-1zM700 175h1v1h-1zM6 175h1v2h-1zM852 175h1v2h-1zM878 175h1v3h-1zM310 175h1v4h-1zM28 176h2v1h-2zM292 176h1v1h-1zM686 176h2v1h-2zM698 176h2v1h-2zM804 176h2v1h-2zM669 176h1v2h-1zM718 176h1v2h-1zM262 176h1v4h-1zM7 177h1v1h-1zM27 177h1v1h-1zM688 177h2v1h-2zM696 177h2v1h-2zM802 177h2v1h-2zM806 177h1v1h-1zM851 177h1v1h-1zM291 177h1v2h-1zM26 178h1v1h-1zM668 178h1v1h-1zM690 178h6v1h-6zM799 178h3v1h-3zM807 178h2v1h-2zM8 178h1v2h-1zM850 178h1v2h-1zM879 178h1v2h-1zM719 178h1v3h-1zM24 179h2v1h-2zM666 179h2v1h-2zM809 179h1v1h-1zM290 179h1v2h-1zM798 179h1v2h-1zM311 179h1v5h-1zM9 180h1v1h-1zM22 180h2v1h-2zM665 180h1v1h-1zM810 180h1v1h-1zM849 180h1v1h-1zM880 180h1v2h-1zM263 180h1v3h-1zM10 181h1v1h-1zM20 181h2v1h-2zM663 181h2v1h-2zM757 181h3v1h-3zM797 181h1v1h-1zM811 181h1v2h-1zM848 181h1v2h-1zM720 181h1v3h-1zM289 181h1v4h-1zM11 182h1v1h-1zM15 182h5v1h-5zM662 182h1v1h-1zM755 182h2v1h-2zM760 182h2v1h-2zM796 182h1v2h-1zM881 182h1v2h-1zM12 183h3v1h-3zM753 183h2v1h-2zM661 183h1v2h-1zM762 183h1v2h-1zM812 183h1v2h-1zM847 183h1v2h-1zM264 183h1v3h-1zM752 184h1v1h-1zM795 184h1v2h-1zM882 184h1v2h-1zM721 184h1v3h-1zM312 184h1v4h-1zM660 185h1v1h-1zM751 185h1v2h-1zM763 185h1v2h-1zM813 185h1v2h-1zM846 185h1v2h-1zM288 185h1v3h-1zM625 186h6v1h-6zM659 186h1v2h-1zM794 186h1v2h-1zM883 186h1v2h-1zM265 186h1v3h-1zM623 187h2v1h-2zM631 187h1v1h-1zM722 187h1v2h-1zM750 187h1v2h-1zM764 187h1v2h-1zM814 187h1v2h-1zM845 187h1v2h-1zM622 188h1v1h-1zM632 188h2v1h-2zM658 188h1v1h-1zM287 188h1v2h-1zM793 188h1v3h-1zM884 188h1v3h-1zM313 188h1v5h-1zM620 189h2v1h-2zM634 189h1v1h-1zM844 189h1v1h-1zM266 189h1v2h-1zM657 189h1v2h-1zM749 189h1v2h-1zM765 189h1v2h-1zM815 189h1v2h-1zM723 189h1v3h-1zM378 190h1v1h-1zM449 190h4v1h-4zM619 190h1v1h-1zM635 190h1v1h-1zM286 190h1v2h-1zM453 190h1v2h-1zM843 190h1v2h-1zM377 191h1v1h-1zM379 191h1v1h-1zM445 191h4v1h-4zM618 191h1v1h-1zM636 191h1v1h-1zM748 191h1v1h-1zM656 191h1v2h-1zM766 191h1v2h-1zM792 191h1v2h-1zM816 191h1v2h-1zM885 191h1v2h-1zM267 191h1v3h-1zM375 192h2v1h-2zM380 192h1v1h-1zM444 192h1v1h-1zM637 192h1v1h-1zM285 192h1v2h-1zM454 192h1v2h-1zM617 192h1v2h-1zM724 192h1v2h-1zM747 192h1v2h-1zM842 192h1v2h-1zM374 193h1v1h-1zM381 193h1v1h-1zM443 193h1v1h-1zM817 193h1v1h-1zM638 193h1v2h-1zM655 193h1v2h-1zM767 193h1v2h-1zM791 193h1v3h-1zM886 193h1v3h-1zM314 193h1v5h-1zM373 194h1v1h-1zM442 194h1v1h-1zM608 194h3v1h-3zM616 194h1v1h-1zM841 194h1v1h-1zM284 194h1v2h-1zM382 194h1v2h-1zM455 194h1v2h-1zM746 194h1v2h-1zM818 194h1v2h-1zM268 194h1v3h-1zM725 194h1v3h-1zM372 195h1v1h-1zM441 195h1v1h-1zM603 195h5v1h-5zM611 195h2v1h-2zM615 195h1v1h-1zM639 195h1v1h-1zM653 195h2v1h-2zM768 195h1v2h-1zM840 195h1v2h-1zM383 196h1v1h-1zM599 196h4v1h-4zM613 196h2v1h-2zM640 196h2v1h-2zM651 196h2v1h-2zM745 196h1v1h-1zM283 196h1v2h-1zM371 196h1v2h-1zM440 196h1v2h-1zM456 196h1v2h-1zM790 196h1v2h-1zM819 196h1v2h-1zM887 196h1v2h-1zM597 197h2v1h-2zM642 197h2v1h-2zM648 197h3v1h-3zM839 197h1v1h-1zM269 197h1v2h-1zM384 197h1v2h-1zM744 197h1v2h-1zM769 197h1v2h-1zM726 197h1v3h-1zM282 198h1v1h-1zM596 198h1v1h-1zM644 198h4v1h-4zM820 198h1v1h-1zM838 198h1v1h-1zM370 198h1v2h-1zM439 198h1v2h-1zM457 198h1v2h-1zM789 198h1v2h-1zM888 198h1v2h-1zM315 198h1v5h-1zM281 199h1v1h-1zM595 199h1v1h-1zM821 199h1v1h-1zM836 199h2v1h-2zM270 199h1v2h-1zM385 199h1v2h-1zM743 199h1v2h-1zM770 199h1v2h-1zM593 200h2v1h-2zM822 200h1v1h-1zM835 200h1v1h-1zM889 200h1v1h-1zM280 200h1v2h-1zM369 200h1v2h-1zM727 200h1v2h-1zM788 200h1v2h-1zM438 200h1v3h-1zM458 200h1v3h-1zM592 201h1v1h-1zM834 201h1v1h-1zM271 201h1v2h-1zM386 201h1v2h-1zM742 201h1v2h-1zM771 201h1v2h-1zM823 201h1v2h-1zM890 201h1v2h-1zM278 202h2v1h-2zM368 202h1v1h-1zM832 202h2v1h-2zM898 202h2v1h-2zM591 202h1v2h-1zM787 202h1v2h-1zM728 202h1v3h-1zM272 203h2v1h-2zM276 203h2v1h-2zM772 203h1v1h-1zM824 203h1v1h-1zM830 203h2v1h-2zM891 203h2v1h-2zM896 203h2v1h-2zM900 203h1v1h-1zM367 203h1v2h-1zM387 203h1v2h-1zM437 203h1v2h-1zM741 203h1v2h-1zM459 203h1v3h-1zM316 203h1v4h-1zM274 204h2v1h-2zM825 204h5v1h-5zM893 204h3v1h-3zM901 204h1v1h-1zM590 204h1v2h-1zM773 204h1v2h-1zM786 204h1v2h-1zM366 205h1v1h-1zM902 205h1v1h-1zM388 205h1v2h-1zM436 205h1v2h-1zM729 205h1v2h-1zM740 205h1v3h-1zM365 206h1v1h-1zM566 206h1v1h-1zM774 206h1v1h-1zM785 206h1v1h-1zM903 206h1v1h-1zM589 206h1v2h-1zM460 206h1v4h-1zM567 207h1v1h-1zM775 207h1v1h-1zM904 207h2v1h-2zM364 207h1v2h-1zM389 207h1v2h-1zM565 207h1v2h-1zM730 207h1v2h-1zM784 207h1v2h-1zM435 207h1v3h-1zM317 207h1v5h-1zM568 208h2v1h-2zM906 208h1v1h-1zM588 208h1v2h-1zM739 208h1v2h-1zM776 208h1v2h-1zM363 209h1v1h-1zM564 209h1v1h-1zM570 209h1v1h-1zM783 209h1v1h-1zM907 209h1v1h-1zM390 209h1v2h-1zM731 209h1v2h-1zM563 210h1v1h-1zM571 210h1v1h-1zM777 210h1v1h-1zM782 210h1v1h-1zM908 210h2v1h-2zM587 210h1v2h-1zM738 210h1v2h-1zM362 210h1v3h-1zM434 210h1v3h-1zM461 210h1v3h-1zM572 211h1v1h-1zM778 211h4v1h-4zM910 211h1v1h-1zM391 211h1v2h-1zM562 211h1v2h-1zM732 211h1v2h-1zM573 212h2v1h-2zM586 212h1v1h-1zM736 212h2v1h-2zM911 212h1v1h-1zM318 212h1v6h-1zM561 213h1v1h-1zM575 213h1v1h-1zM585 213h1v1h-1zM734 213h2v1h-2zM392 213h1v2h-1zM733 213h1v2h-1zM912 213h1v2h-1zM433 213h1v3h-1zM462 213h1v3h-1zM361 213h1v4h-1zM393 214h1v1h-1zM576 214h1v1h-1zM584 214h1v1h-1zM560 214h1v2h-1zM394 215h3v1h-3zM404 215h2v1h-2zM577 215h2v1h-2zM583 215h1v1h-1zM913 215h1v1h-1zM397 216h2v1h-2zM402 216h2v1h-2zM406 216h2v1h-2zM579 216h2v1h-2zM582 216h1v1h-1zM914 216h1v1h-1zM432 216h1v2h-1zM463 216h1v3h-1zM559 216h1v3h-1zM399 217h3v1h-3zM408 217h2v1h-2zM581 217h1v1h-1zM915 217h1v2h-1zM360 217h1v4h-1zM410 218h1v1h-1zM431 218h1v3h-1zM319 218h1v6h-1zM411 219h1v1h-1zM916 219h1v1h-1zM464 219h1v2h-1zM558 219h1v3h-1zM412 220h1v1h-1zM917 220h2v1h-2zM919 221h2v1h-2zM413 221h1v2h-1zM430 221h1v2h-1zM359 221h1v3h-1zM465 221h1v3h-1zM921 222h1v1h-1zM557 222h1v2h-1zM1261 222h1v2h-1zM414 223h1v1h-1zM1262 223h1v1h-1zM429 223h1v2h-1zM922 223h1v2h-1zM415 224h1v1h-1zM1263 224h1v1h-1zM358 224h1v2h-1zM1260 224h1v2h-1zM466 224h1v3h-1zM556 224h1v3h-1zM320 224h1v7h-1zM416 225h2v1h-2zM428 225h1v1h-1zM923 225h1v1h-1zM1264 225h1v2h-1zM418 226h2v1h-2zM427 226h1v1h-1zM924 226h1v1h-1zM1259 226h1v2h-1zM357 226h1v3h-1zM420 227h2v1h-2zM426 227h1v2h-1zM467 227h1v2h-1zM555 227h1v2h-1zM925 227h1v2h-1zM1265 227h1v2h-1zM422 228h2v1h-2zM1258 228h1v3h-1zM424 229h2v1h-2zM926 229h1v1h-1zM356 229h1v2h-1zM554 229h1v2h-1zM1266 229h1v2h-1zM468 229h1v3h-1zM927 230h1v1h-1zM553 231h1v1h-1zM928 231h1v1h-1zM355 231h1v2h-1zM1267 231h1v2h-1zM1257 231h1v3h-1zM321 231h1v6h-1zM469 232h1v2h-1zM929 232h1v2h-1zM552 232h1v3h-1zM1268 233h1v2h-1zM354 233h1v3h-1zM930 234h1v1h-1zM1146 234h5v1h-5zM470 234h1v3h-1zM1256 234h1v3h-1zM931 235h1v1h-1zM1145 235h1v1h-1zM1151 235h1v1h-1zM1269 235h1v2h-1zM551 235h1v5h-1zM932 236h1v1h-1zM1143 236h2v1h-2zM1152 236h2v1h-2zM353 236h1v2h-1zM933 237h2v1h-2zM1142 237h1v1h-1zM1154 237h1v1h-1zM1270 237h1v2h-1zM471 237h1v4h-1zM1255 237h1v4h-1zM322 237h1v5h-1zM935 238h1v1h-1zM948 238h9v1h-9zM1141 238h1v1h-1zM1155 238h1v1h-1zM352 238h1v2h-1zM936 239h2v1h-2zM944 239h4v1h-4zM957 239h1v1h-1zM1140 239h1v1h-1zM1156 239h1v1h-1zM938 240h2v1h-2zM942 240h2v1h-2zM958 240h2v1h-2zM1139 240h1v1h-1zM1157 240h2v1h-2zM351 240h1v2h-1zM550 240h1v4h-1zM526 241h1v1h-1zM940 241h2v1h-2zM960 241h1v1h-1zM1138 241h1v1h-1zM1159 241h1v1h-1zM472 241h1v4h-1zM1254 241h1v5h-1zM525 242h1v1h-1zM527 242h1v1h-1zM1137 242h1v1h-1zM1160 242h1v1h-1zM350 242h1v2h-1zM961 242h1v2h-1zM323 242h1v5h-1zM523 243h2v1h-2zM528 243h1v1h-1zM1136 243h1v1h-1zM1161 243h1v2h-1zM522 244h1v1h-1zM529 244h1v1h-1zM1135 244h1v1h-1zM962 244h1v2h-1zM349 244h1v3h-1zM549 244h1v3h-1zM521 245h1v1h-1zM530 245h1v1h-1zM1134 245h1v1h-1zM1162 245h1v1h-1zM473 245h1v4h-1zM520 246h1v1h-1zM531 246h1v1h-1zM1133 246h1v1h-1zM1163 246h1v1h-1zM963 246h1v2h-1zM1253 246h1v4h-1zM519 247h1v1h-1zM532 247h1v1h-1zM348 247h1v2h-1zM548 247h1v2h-1zM1132 247h1v2h-1zM1164 247h1v2h-1zM324 247h1v5h-1zM518 248h1v1h-1zM533 248h1v1h-1zM964 248h1v2h-1zM517 249h1v1h-1zM534 249h1v1h-1zM1131 249h1v1h-1zM1165 249h1v1h-1zM347 249h1v2h-1zM547 249h1v2h-1zM474 249h1v3h-1zM516 250h1v1h-1zM535 250h2v1h-2zM540 250h2v1h-2zM1130 250h1v1h-1zM1166 250h1v1h-1zM965 250h1v2h-1zM1252 250h1v7h-1zM515 251h1v1h-1zM537 251h3v1h-3zM542 251h1v1h-1zM1129 251h1v1h-1zM1167 251h1v1h-1zM346 251h1v2h-1zM546 251h1v2h-1zM514 252h1v1h-1zM543 252h2v1h-2zM1128 252h1v1h-1zM966 252h1v2h-1zM1168 252h1v2h-1zM475 252h1v3h-1zM325 252h1v4h-1zM545 253h1v1h-1zM1127 253h1v1h-1zM513 253h1v2h-1zM345 253h1v3h-1zM1125 254h2v1h-2zM1169 254h1v1h-1zM967 254h1v2h-1zM1124 255h1v1h-1zM1170 255h1v1h-1zM512 255h1v2h-1zM476 255h1v3h-1zM1123 256h1v1h-1zM326 256h1v2h-1zM344 256h1v2h-1zM968 256h1v2h-1zM1171 256h1v2h-1zM1122 257h1v1h-1zM511 257h1v2h-1zM1251 257h1v8h-1zM1120 258h2v1h-2zM327 258h1v2h-1zM1172 258h1v2h-1zM343 258h1v3h-1zM477 258h1v3h-1zM969 258h1v4h-1zM1119 259h1v1h-1zM510 259h1v2h-1zM1117 260h2v1h-2zM328 260h1v2h-1zM1173 260h1v2h-1zM509 261h1v1h-1zM1116 261h1v1h-1zM342 261h1v2h-1zM478 261h1v3h-1zM1115 262h1v1h-1zM329 262h1v2h-1zM508 262h1v2h-1zM970 262h1v2h-1zM1174 262h1v2h-1zM341 263h1v2h-1zM1114 263h1v2h-1zM330 264h1v1h-1zM507 264h1v2h-1zM1175 264h1v2h-1zM479 264h1v3h-1zM971 264h1v3h-1zM331 265h1v1h-1zM340 265h1v1h-1zM1113 265h1v1h-1zM1250 265h1v17h-1zM332 266h2v1h-2zM339 266h1v1h-1zM1112 266h1v1h-1zM506 266h1v2h-1zM1176 266h1v2h-1zM334 267h2v1h-2zM338 267h1v1h-1zM1111 267h1v1h-1zM480 267h1v3h-1zM972 267h1v3h-1zM336 268h2v1h-2zM505 268h1v1h-1zM1110 268h1v2h-1zM1177 268h1v3h-1zM504 269h1v1h-1zM481 270h1v2h-1zM503 270h1v2h-1zM1109 270h1v2h-1zM973 270h1v3h-1zM482 271h1v1h-1zM1178 271h1v2h-1zM483 272h3v1h-3zM502 272h1v1h-1zM1108 272h1v2h-1zM501 273h1v1h-1zM486 273h1v2h-1zM974 273h1v2h-1zM1179 273h1v3h-1zM500 274h1v2h-1zM1107 274h1v2h-1zM487 275h1v2h-1zM975 275h1v3h-1zM499 276h1v2h-1zM1106 276h1v2h-1zM1180 276h1v4h-1zM488 277h1v2h-1zM493 278h6v1h-6zM1013 278h3v1h-3zM1105 278h1v2h-1zM976 278h1v3h-1zM491 279h2v1h-2zM1011 279h2v1h-2zM1016 279h3v1h-3zM1074 279h1v1h-1zM489 279h1v2h-1zM490 280h1v1h-1zM1010 280h1v1h-1zM1019 280h2v1h-2zM1072 280h2v1h-2zM1075 280h1v1h-1zM1104 280h1v3h-1zM1181 280h1v4h-1zM1008 281h2v1h-2zM1071 281h1v1h-1zM1076 281h2v1h-2zM977 281h1v2h-1zM1021 281h1v2h-1zM1007 282h1v1h-1zM1070 282h1v1h-1zM1078 282h1v1h-1zM1249 282h1v4h-1zM1005 283h2v1h-2zM1022 283h1v1h-1zM978 283h1v2h-1zM1069 283h1v2h-1zM1079 283h1v2h-1zM1103 283h1v3h-1zM1003 284h2v1h-2zM1023 284h1v2h-1zM1182 284h1v4h-1zM1000 285h3v1h-3zM1068 285h1v1h-1zM979 285h1v2h-1zM1080 285h1v2h-1zM998 286h2v1h-2zM1024 286h1v1h-1zM1067 286h1v2h-1zM1102 286h1v2h-1zM1248 286h1v11h-1zM995 287h3v1h-3zM1081 287h1v1h-1zM980 287h1v2h-1zM1025 287h1v2h-1zM993 288h2v1h-2zM1064 288h3v1h-3zM1082 288h1v1h-1zM1101 288h1v3h-1zM1183 288h1v3h-1zM981 289h1v1h-1zM991 289h2v1h-2zM1061 289h3v1h-3zM1026 289h1v2h-1zM1083 289h1v2h-1zM982 290h1v1h-1zM990 290h1v1h-1zM1059 290h2v1h-2zM983 291h1v1h-1zM988 291h2v1h-2zM1057 291h2v1h-2zM1084 291h1v1h-1zM1027 291h1v2h-1zM1100 291h1v3h-1zM1184 291h1v4h-1zM984 292h1v1h-1zM986 292h2v1h-2zM1054 292h3v1h-3zM1085 292h1v1h-1zM985 293h1v1h-1zM1028 293h1v1h-1zM1052 293h2v1h-2zM1086 293h1v2h-1zM1051 294h1v1h-1zM1029 294h1v2h-1zM1099 294h1v3h-1zM1087 295h1v1h-1zM1050 295h1v2h-1zM1185 295h1v3h-1zM1030 296h1v1h-1zM1088 296h1v2h-1zM1049 297h1v1h-1zM1031 297h1v2h-1zM1098 297h1v2h-1zM1247 297h1v4h-1zM1048 298h1v1h-1zM1089 298h1v1h-1zM1186 298h1v3h-1zM1032 299h1v1h-1zM1046 299h2v1h-2zM1097 299h1v1h-1zM1090 299h1v2h-1zM1033 300h1v1h-1zM1045 300h1v1h-1zM1096 300h1v2h-1zM1034 301h1v1h-1zM1043 301h2v1h-2zM1091 301h1v1h-1zM1187 301h1v4h-1zM1246 301h1v13h-1zM1035 302h2v1h-2zM1041 302h2v1h-2zM1095 302h1v1h-1zM1092 302h1v2h-1zM1037 303h1v1h-1zM1039 303h2v1h-2zM1094 303h1v1h-1zM1038 304h1v1h-1zM1093 304h1v1h-1zM1188 305h1v4h-1zM1189 309h1v4h-1zM1190 313h1v4h-1zM1245 314h1v8h-1zM1191 317h1v4h-1zM1192 321h1v4h-1zM1244 322h1v5h-1zM1193 325h1v4h-1zM1243 327h1v6h-1zM1194 329h1v3h-1zM1195 332h1v4h-1zM1242 333h1v4h-1zM1196 336h1v4h-1zM1241 337h1v4h-1zM1197 340h1v4h-1zM1240 341h1v4h-1zM1198 344h1v5h-1zM1239 345h1v4h-1zM1238 349h1v4h-1zM1199 349h1v6h-1zM1237 353h1v6h-1zM1200 355h1v6h-1zM1236 359h1v6h-1zM1201 361h1v6h-1zM1235 365h1v5h-1zM1202 367h1v6h-1zM1234 370h1v4h-1zM1203 373h1v5h-1zM1233 374h1v5h-1zM1204 378h1v6h-1zM1232 379h1v4h-1zM1231 383h1v5h-1zM1205 384h1v6h-1zM1230 388h1v4h-1zM1206 390h1v6h-1zM1229 392h1v4h-1zM1228 396h1v4h-1zM1207 396h1v6h-1zM1227 400h1v4h-1zM1208 402h1v6h-1zM1226 404h1v5h-1zM1209 408h1v5h-1zM1225 409h1v5h-1zM1210 413h1v5h-1zM1224 414h1v4h-1zM1211 418h1v5h-1zM1223 418h1v5h-1zM1212 423h1v5h-1zM1222 423h1v5h-1zM1213 428h1v4h-1zM1221 428h1v4h-1zM1220 432h1v3h-1zM1214 432h1v4h-1zM1219 435h1v3h-1zM1215 436h1v2h-1zM1216 438h1v3h-1zM1218 438h1v3h-1zM1217 441h1v2h-1z" fill="#ffa500"/>
<rect x="5" y="100" width="1592" height="2" fill="#ff0000" />
<rect x="5" y="162" width="1592" height="2" fill="#ff0000" />
<rect x="5" y="211" width="1592" height="2" fill="#ff0000" />
<rect x="5" y="257" width="1592" height="2" fill="#00ff00" />
<rect x="5" y="295" width="1592" height="2" fill="#0000ff" />
<rect x="5" y="346" width="1592" height="2" fill="#0000ff" />
<rect x="4" y="293" width="6" height="6" fill="#0000ff" />
<rect x="6" y="295" width="2" height="2" fill="#fff" />
<rect x="1591" y="293" width="6" height="6" fill="#0000ff" />
<rect x="1593" y="295" width="2" height="2" fill="#fff" />
<rect x="4" y="344" width="6" height="6" fill="#0000ff" />
<rect x="6" y="346" width="2" height="2" fill="#fff" />
<rect x="1591" y="344" width="6" height="6" fill="#0000ff" />
<rect x="1593" y="346" width="2" height="2" fill="#fff" />
<rect x="1598" y="32" width="2" height="1" fill="#000" />
<rect x="1598" y="65" width="2" height="1" fill="#000" />
<rect x="1598" y="98" width="2" height="1" fill="#000" />
<rect x="1598" y="131" width="2" height="1" fill="#000" />
<rect x="1598" y="164" width="2" height="1" fill="#000" />
<rect x="1598" y="197" width="2" height="1" fill="#000" />
<rect x="1598" y="231" width="2" height="1" fill="#000" />
<rect x="1598" y="264" width="2" height="1" fill="#000" />
<rect x="1598" y="297" width="2" height="1" fill="#000" />
<rect x="1598" y="330" width="2" height="1" fill="#000" />
<rect x="1598" y="363" width="2" height="1" fill="#000" />
<rect x="1598" y="396" width="2" height="1" fill="#000" />
<rect x="1598" y="429" width="2" height="1" fill="#000" />
<rect x="1598" y="462" width="2" height="1" fill="#000" />
<rect x="1598" y="495" width="2" height="1" fill="#000" />
<rect x="1598" y="528" width="2" height="1" fill="#000" />
<text x="1603.5" y="36" font-size="10" fill="#000" textLength="32.5" lengthAdjust="spacingAndGlyphs" >1.02750</text>
<text x="1603.5" y="69" font-size="10" fill="#000" textLength="32.5" lengthAdjust="spacingAndGlyphs" >1.02010</text>
<text x="1603.5" y="135" font-size="10" fill="#000" textLength="32.5" lengthAdjust="spacingAndGlyphs" >1.00530</text>
<text x="1603.5" y="201" font-size="10" fill="#000" textLength="32.5" lengthAdjust="spacingAndGlyphs" >0.99030</text>
<text x="1603.5" y="235" font-size="10" fill="#000" textLength="32.5" lengthAdjust="spacingAndGlyphs" >0.98290</text>
<text x="1603.5" y="334" font-size="10" fill="#000" textLength="32.5" lengthAdjust="spacingAndGlyphs" >0.96070</text>
<text x="1603.5" y="367" font-size="10" fill="#000" textLength="32.5" lengthAdjust="spacingAndGlyphs" >0.95330</text>
<text x="1603.5" y="400" font-size="10" fill="#000" textLength="32.5" lengthAdjust="spacingAndGlyphs" >0.94570</text>
<text x="1603.5" y="433" font-size="10" fill="#000" textLength="32.5" lengthAdjust="spacingAndGlyphs" >0.93830</text>
<text x="1603.5" y="466" font-size="10" fill="#000" textLength="32.5" lengthAdjust="spacingAndGlyphs" >0.93090</text>
<text x="1603.5" y="499" font-size="10" fill="#000" textLength="32.5" lengthAdjust="spacingAndGlyphs" >0.92350</text>
<text x="1603.5" y="532" font-size="10" fill="#000" textLength="32.5" lengthAdjust="spacingAndGlyphs" >0.91610</text>
<rect x="1599" y="259" width="41" height="11" fill="#000" />
<text x="1603" y="267.6" font-size="10" fill="#fff" textLength="33" lengthAdjust="spacingAndGlyphs" >0.97529</text>
<rect x="1599" y="95" width="41" height="11" fill="#ff0000" />
<text x="1603" y="103.6" font-size="10" fill="#fff" textLength="33" lengthAdjust="spacingAndGlyphs" >1.01207</text>
<rect x="1599" y="157" width="41" height="11" fill="#ff0000" />
<text x="1603" y="165.6" font-size="10" fill="#fff" textLength="33" lengthAdjust="spacingAndGlyphs" >0.99800</text>
<rect x="1599" y="206" width="41" height="11" fill="#ff0000" />
<text x="1603" y="214.6" font-size="10" fill="#fff" textLength="33" lengthAdjust="spacingAndGlyphs" >0.98703</text>
<rect x="1599" y="252" width="41" height="11" fill="#00ff00" />
<text x="1603" y="260.6" font-size="10" fill="#fff" textLength="33" lengthAdjust="spacingAndGlyphs" >0.97658</text>
<rect x="1599" y="290" width="41" height="11" fill="#0000ff" />
<text x="1603" y="298.6" font-size="10" fill="#fff" textLength="33" lengthAdjust="spacingAndGlyphs" >0.96803</text>
<rect x="1599" y="341" width="41" height="11" fill="#0000ff" />
<text x="1603" y="349.6" font-size="10" fill="#fff" textLength="33" lengthAdjust="spacingAndGlyphs" >0.95663</text>
<path d="M8 31 L15 31 L11.5 35 Z" fill="#000" shape-rendering="auto"/>
<text x="20.7" y="36" font-size="10" fill="#000" textLength="63.8" lengthAdjust="spacingAndGlyphs" >USDCHF,Daily</text>
<text x="90.9" y="36" font-size="10" fill="#000" textLength="32.9" lengthAdjust="spacingAndGlyphs" >0.97808</text>
<text x="127.1" y="36" font-size="10" fill="#000" textLength="32.4" lengthAdjust="spacingAndGlyphs" >0.97988</text>
<text x="162.8" y="36" font-size="10" fill="#000" textLength="32.6" lengthAdjust="spacingAndGlyphs" >0.97421</text>
<text x="199" y="36" font-size="10" fill="#000" textLength="33" lengthAdjust="spacingAndGlyphs" >0.97529</text>
<path d="M1272 25 L1284 25 L1278 31 Z" fill="#c0c0c0" shape-rendering="auto"/>
<path d="M6 560.5 H1597" stroke="#c0c0c0" stroke-width="1" stroke-dasharray="3 3" fill="none"/>
<path d="M6 596.5 H1597" stroke="#c0c0c0" stroke-width="1" stroke-dasharray="3 3" fill="none"/>
<path d="M109 550h1v1h-1zM108 551h1v2h-1zM110 551h1v2h-1zM107 553h1v2h-1zM111 553h1v2h-1zM93 554h5v1h-5zM98 555h3v1h-3zM104 555h3v1h-3zM92 555h1v2h-1zM112 555h1v2h-1zM101 556h3v1h-3zM91 557h1v1h-1zM113 557h1v2h-1zM90 558h1v1h-1zM117 558h2v1h-2zM129 558h1v1h-1zM89 559h1v1h-1zM115 559h2v1h-2zM119 559h2v1h-2zM127 559h2v1h-2zM130 559h2v1h-2zM114 559h1v2h-1zM121 560h2v1h-2zM125 560h2v1h-2zM132 560h1v1h-1zM88 560h1v2h-1zM133 560h1v2h-1zM123 561h2v1h-2zM87 562h1v1h-1zM1146 562h1v1h-1zM1252 562h2v1h-2zM134 562h1v4h-1zM86 563h1v1h-1zM1144 563h2v1h-2zM1147 563h1v1h-1zM1250 563h2v1h-2zM1254 563h1v1h-1zM85 564h1v1h-1zM1129 564h11v1h-11zM1142 564h2v1h-2zM1247 564h3v1h-3zM1255 564h1v1h-1zM158 564h1v2h-1zM1148 564h1v2h-1zM157 565h1v1h-1zM1128 565h1v1h-1zM1140 565h2v1h-2zM1245 565h2v1h-2zM84 565h1v2h-1zM1256 565h1v2h-1zM156 566h1v1h-1zM867 566h2v1h-2zM1149 566h1v1h-1zM1244 566h1v1h-1zM159 566h1v2h-1zM869 566h1v2h-1zM1127 566h1v2h-1zM135 566h1v3h-1zM83 567h1v1h-1zM155 567h1v1h-1zM618 567h1v1h-1zM853 567h7v1h-7zM863 567h4v1h-4zM1150 567h1v1h-1zM1257 567h1v1h-1zM658 567h1v2h-1zM1243 567h1v2h-1zM81 568h2v1h-2zM142 568h1v1h-1zM153 568h2v1h-2zM556 568h6v1h-6zM592 568h2v1h-2zM616 568h2v1h-2zM619 568h1v1h-1zM797 568h1v1h-1zM851 568h2v1h-2zM860 568h3v1h-3zM1126 568h1v1h-1zM1258 568h2v1h-2zM798 568h1v2h-1zM1151 568h1v2h-1zM160 568h1v3h-1zM870 568h1v4h-1zM69 569h1v1h-1zM79 569h2v1h-2zM141 569h1v1h-1zM143 569h2v1h-2zM151 569h2v1h-2zM435 569h3v1h-3zM554 569h2v1h-2zM562 569h1v1h-1zM590 569h2v1h-2zM594 569h1v1h-1zM614 569h2v1h-2zM620 569h1v1h-1zM708 569h2v1h-2zM795 569h2v1h-2zM845 569h6v1h-6zM1125 569h1v1h-1zM1242 569h1v1h-1zM1260 569h2v1h-2zM657 569h1v2h-1zM659 569h1v2h-1zM136 569h1v4h-1zM67 570h2v1h-2zM70 570h1v1h-1zM78 570h1v1h-1zM145 570h6v1h-6zM433 570h2v1h-2zM438 570h1v1h-1zM553 570h1v1h-1zM587 570h3v1h-3zM595 570h1v1h-1zM611 570h3v1h-3zM621 570h1v1h-1zM666 570h5v1h-5zM700 570h3v1h-3zM706 570h2v1h-2zM710 570h1v1h-1zM792 570h3v1h-3zM843 570h2v1h-2zM1108 570h12v1h-12zM1123 570h2v1h-2zM1241 570h1v1h-1zM1262 570h2v1h-2zM140 570h1v2h-1zM563 570h1v2h-1zM799 570h1v2h-1zM1152 570h1v2h-1zM454 570h1v3h-1zM66 571h1v1h-1zM77 571h1v1h-1zM432 571h1v1h-1zM439 571h1v1h-1zM453 571h1v1h-1zM552 571h1v1h-1zM584 571h3v1h-3zM607 571h4v1h-4zM622 571h5v1h-5zM665 571h1v1h-1zM671 571h2v1h-2zM697 571h3v1h-3zM703 571h3v1h-3zM754 571h1v1h-1zM790 571h2v1h-2zM842 571h1v1h-1zM1105 571h3v1h-3zM1120 571h1v1h-1zM1122 571h1v1h-1zM1240 571h1v1h-1zM1264 571h3v1h-3zM71 571h1v2h-1zM161 571h1v2h-1zM596 571h1v2h-1zM660 571h1v2h-1zM711 571h1v2h-1zM841 571h1v2h-1zM656 571h1v3h-1zM65 572h1v1h-1zM75 572h2v1h-2zM139 572h1v1h-1zM368 572h3v1h-3zM431 572h1v1h-1zM440 572h1v1h-1zM452 572h1v1h-1zM551 572h1v1h-1zM564 572h1v1h-1zM582 572h2v1h-2zM603 572h4v1h-4zM627 572h2v1h-2zM645 572h2v1h-2zM663 572h2v1h-2zM673 572h2v1h-2zM695 572h2v1h-2zM752 572h2v1h-2zM755 572h1v1h-1zM789 572h1v1h-1zM1103 572h2v1h-2zM1121 572h1v1h-1zM1267 572h3v1h-3zM800 572h1v2h-1zM1153 572h1v2h-1zM1239 572h1v2h-1zM871 572h1v3h-1zM64 573h1v1h-1zM72 573h1v1h-1zM74 573h1v1h-1zM138 573h1v1h-1zM362 573h1v1h-1zM366 573h2v1h-2zM371 573h2v1h-2zM430 573h1v1h-1zM441 573h2v1h-2zM451 573h1v1h-1zM550 573h1v1h-1zM565 573h1v1h-1zM580 573h2v1h-2zM597 573h1v1h-1zM600 573h3v1h-3zM629 573h1v1h-1zM643 573h2v1h-2zM647 573h2v1h-2zM662 573h1v1h-1zM675 573h2v1h-2zM691 573h4v1h-4zM712 573h1v1h-1zM750 573h2v1h-2zM788 573h1v1h-1zM1071 573h2v1h-2zM1101 573h2v1h-2zM137 573h1v2h-1zM162 573h1v2h-1zM361 573h1v2h-1zM661 573h1v2h-1zM756 573h1v2h-1zM1073 573h1v2h-1zM840 573h1v3h-1zM455 573h1v5h-1zM63 574h1v1h-1zM73 574h1v1h-1zM363 574h3v1h-3zM373 574h2v1h-2zM443 574h2v1h-2zM450 574h1v1h-1zM549 574h1v1h-1zM573 574h7v1h-7zM598 574h2v1h-2zM630 574h1v1h-1zM642 574h1v1h-1zM649 574h1v1h-1zM677 574h6v1h-6zM689 574h2v1h-2zM747 574h3v1h-3zM787 574h1v1h-1zM1070 574h1v1h-1zM1099 574h2v1h-2zM1238 574h1v1h-1zM429 574h1v2h-1zM566 574h1v2h-1zM655 574h1v2h-1zM713 574h1v2h-1zM801 574h1v2h-1zM1069 574h1v2h-1zM1154 574h1v2h-1zM62 575h1v1h-1zM375 575h1v1h-1zM445 575h5v1h-5zM548 575h1v1h-1zM572 575h1v1h-1zM631 575h1v1h-1zM650 575h2v1h-2zM683 575h2v1h-2zM687 575h2v1h-2zM745 575h2v1h-2zM757 575h1v1h-1zM786 575h1v1h-1zM802 575h3v1h-3zM1098 575h1v1h-1zM1155 575h1v1h-1zM163 575h1v2h-1zM360 575h1v2h-1zM525 575h1v2h-1zM641 575h1v2h-1zM805 575h1v2h-1zM1074 575h1v2h-1zM1237 575h1v3h-1zM872 575h1v4h-1zM46 576h9v1h-9zM61 576h1v1h-1zM376 576h1v1h-1zM523 576h2v1h-2zM547 576h1v1h-1zM567 576h1v1h-1zM632 576h1v1h-1zM652 576h2v1h-2zM685 576h2v1h-2zM743 576h2v1h-2zM758 576h1v1h-1zM784 576h2v1h-2zM833 576h1v1h-1zM1097 576h1v1h-1zM1156 576h7v1h-7zM428 576h1v2h-1zM571 576h1v2h-1zM654 576h1v2h-1zM839 576h1v2h-1zM1068 576h1v2h-1zM714 576h1v4h-1zM55 577h2v1h-2zM59 577h2v1h-2zM377 577h1v1h-1zM522 577h1v1h-1zM544 577h3v1h-3zM633 577h1v1h-1zM640 577h1v1h-1zM742 577h1v1h-1zM782 577h2v1h-2zM832 577h1v1h-1zM834 577h2v1h-2zM1096 577h1v1h-1zM1163 577h1v1h-1zM45 577h1v2h-1zM164 577h1v2h-1zM359 577h1v2h-1zM526 577h1v2h-1zM568 577h1v2h-1zM759 577h1v2h-1zM806 577h1v2h-1zM1075 577h1v2h-1zM33 578h6v1h-6zM57 578h2v1h-2zM301 578h1v1h-1zM378 578h2v1h-2zM398 578h1v1h-1zM514 578h1v1h-1zM521 578h1v1h-1zM539 578h5v1h-5zM570 578h1v1h-1zM634 578h1v1h-1zM741 578h1v1h-1zM836 578h2v1h-2zM1095 578h1v1h-1zM1164 578h2v1h-2zM1168 578h1v1h-1zM427 578h1v2h-1zM639 578h1v2h-1zM781 578h1v2h-1zM831 578h1v2h-1zM838 578h1v2h-1zM1067 578h1v2h-1zM1169 578h1v2h-1zM1236 578h1v4h-1zM456 578h1v6h-1zM39 579h1v1h-1zM44 579h1v1h-1zM165 579h1v1h-1zM300 579h1v1h-1zM302 579h1v1h-1zM380 579h2v1h-2zM399 579h2v1h-2zM506 579h1v1h-1zM512 579h2v1h-2zM515 579h2v1h-2zM519 579h2v1h-2zM538 579h1v1h-1zM569 579h1v1h-1zM635 579h2v1h-2zM739 579h2v1h-2zM1094 579h1v1h-1zM1166 579h2v1h-2zM32 579h1v2h-1zM229 579h1v2h-1zM358 579h1v2h-1zM397 579h1v2h-1zM527 579h1v2h-1zM760 579h1v2h-1zM807 579h1v2h-1zM873 579h1v2h-1zM1076 579h1v2h-1zM40 580h1v1h-1zM166 580h1v1h-1zM195 580h3v1h-3zM230 580h2v1h-2zM290 580h7v1h-7zM299 580h1v1h-1zM352 580h3v1h-3zM382 580h1v1h-1zM401 580h1v1h-1zM424 580h3v1h-3zM505 580h1v1h-1zM507 580h2v1h-2zM510 580h2v1h-2zM517 580h2v1h-2zM537 580h1v1h-1zM637 580h2v1h-2zM738 580h1v1h-1zM830 580h1v1h-1zM1093 580h1v1h-1zM43 580h1v2h-1zM289 580h1v2h-1zM303 580h1v2h-1zM780 580h1v2h-1zM1066 580h1v2h-1zM1170 580h1v3h-1zM715 580h1v4h-1zM31 581h1v1h-1zM41 581h1v1h-1zM173 581h1v1h-1zM191 581h4v1h-4zM198 581h1v1h-1zM206 581h1v1h-1zM232 581h2v1h-2zM236 581h3v1h-3zM297 581h2v1h-2zM346 581h1v1h-1zM350 581h2v1h-2zM355 581h3v1h-3zM383 581h1v1h-1zM396 581h1v1h-1zM402 581h2v1h-2zM422 581h2v1h-2zM504 581h1v1h-1zM509 581h1v1h-1zM536 581h1v1h-1zM737 581h1v1h-1zM761 581h1v1h-1zM829 581h1v1h-1zM1058 581h4v1h-4zM1228 581h2v1h-2zM167 581h1v2h-1zM345 581h1v2h-1zM421 581h1v2h-1zM528 581h1v2h-1zM808 581h1v2h-1zM874 581h1v2h-1zM1077 581h1v2h-1zM1092 581h1v2h-1zM228 581h1v3h-1zM42 582h1v1h-1zM171 582h2v1h-2zM188 582h3v1h-3zM205 582h1v1h-1zM207 582h2v1h-2zM234 582h2v1h-2zM304 582h1v1h-1zM347 582h3v1h-3zM384 582h1v1h-1zM404 582h2v1h-2zM503 582h1v1h-1zM535 582h1v1h-1zM735 582h2v1h-2zM821 582h1v1h-1zM890 582h1v1h-1zM1050 582h1v1h-1zM1056 582h2v1h-2zM1062 582h2v1h-2zM1223 582h5v1h-5zM1230 582h1v1h-1zM30 582h1v2h-1zM174 582h1v2h-1zM199 582h1v2h-1zM239 582h1v2h-1zM288 582h1v2h-1zM395 582h1v2h-1zM762 582h1v2h-1zM828 582h1v2h-1zM1049 582h1v2h-1zM1065 582h1v2h-1zM779 582h1v3h-1zM1222 582h1v3h-1zM1235 582h1v4h-1zM168 583h1v1h-1zM170 583h1v1h-1zM186 583h2v1h-2zM203 583h2v1h-2zM209 583h1v1h-1zM385 583h1v1h-1zM406 583h1v1h-1zM502 583h1v1h-1zM534 583h1v1h-1zM734 583h1v1h-1zM819 583h2v1h-2zM822 583h1v1h-1zM889 583h1v1h-1zM891 583h2v1h-2zM1051 583h2v1h-2zM1055 583h1v1h-1zM1064 583h1v1h-1zM1091 583h1v1h-1zM1231 583h1v1h-1zM305 583h1v2h-1zM420 583h1v2h-1zM529 583h1v2h-1zM809 583h1v2h-1zM875 583h1v2h-1zM1078 583h1v2h-1zM1171 583h1v3h-1zM344 583h1v4h-1zM24 584h6v1h-6zM169 584h1v1h-1zM182 584h4v1h-4zM200 584h1v1h-1zM202 584h1v1h-1zM210 584h1v1h-1zM386 584h9v1h-9zM407 584h1v1h-1zM501 584h1v1h-1zM530 584h4v1h-4zM733 584h1v1h-1zM763 584h1v1h-1zM810 584h1v1h-1zM816 584h3v1h-3zM823 584h2v1h-2zM888 584h1v1h-1zM893 584h6v1h-6zM1007 584h3v1h-3zM1053 584h2v1h-2zM1090 584h1v1h-1zM175 584h1v2h-1zM240 584h1v2h-1zM287 584h1v2h-1zM827 584h1v2h-1zM1048 584h1v2h-1zM1232 584h1v2h-1zM227 584h1v3h-1zM457 584h1v3h-1zM716 584h1v4h-1zM22 585h2v1h-2zM181 585h1v1h-1zM201 585h1v1h-1zM211 585h1v1h-1zM408 585h1v1h-1zM412 585h3v1h-3zM494 585h2v1h-2zM499 585h2v1h-2zM732 585h1v1h-1zM811 585h5v1h-5zM825 585h1v1h-1zM887 585h1v1h-1zM899 585h1v1h-1zM1006 585h1v1h-1zM1010 585h2v1h-2zM1042 585h1v1h-1zM1089 585h1v1h-1zM306 585h1v2h-1zM419 585h1v2h-1zM764 585h1v2h-1zM778 585h1v2h-1zM876 585h1v2h-1zM1005 585h1v2h-1zM1079 585h1v2h-1zM1221 585h1v4h-1zM20 586h2v1h-2zM179 586h2v1h-2zM241 586h1v1h-1zM285 586h2v1h-2zM409 586h3v1h-3zM415 586h1v1h-1zM458 586h4v1h-4zM493 586h1v1h-1zM496 586h3v1h-3zM731 586h1v1h-1zM826 586h1v1h-1zM882 586h5v1h-5zM900 586h1v1h-1zM941 586h6v1h-6zM1012 586h2v1h-2zM1040 586h2v1h-2zM1043 586h1v1h-1zM1233 586h1v1h-1zM176 586h1v2h-1zM212 586h1v2h-1zM469 586h1v2h-1zM958 586h1v2h-1zM1047 586h1v2h-1zM1088 586h1v2h-1zM1234 586h1v2h-1zM1172 586h1v3h-1zM17 587h3v1h-3zM178 587h1v1h-1zM242 587h1v1h-1zM282 587h3v1h-3zM416 587h2v1h-2zM730 587h1v1h-1zM765 587h1v1h-1zM881 587h1v1h-1zM901 587h1v1h-1zM939 587h2v1h-2zM947 587h1v1h-1zM957 587h1v1h-1zM1014 587h2v1h-2zM1039 587h1v1h-1zM1044 587h2v1h-2zM226 587h1v2h-1zM418 587h1v2h-1zM462 587h1v2h-1zM470 587h1v2h-1zM492 587h1v2h-1zM777 587h1v2h-1zM877 587h1v2h-1zM1004 587h1v2h-1zM1080 587h1v2h-1zM307 587h1v4h-1zM343 587h1v4h-1zM14 588h3v1h-3zM177 588h1v1h-1zM213 588h1v1h-1zM243 588h2v1h-2zM280 588h2v1h-2zM478 588h1v1h-1zM729 588h1v1h-1zM766 588h2v1h-2zM771 588h6v1h-6zM880 588h1v1h-1zM902 588h8v1h-8zM938 588h1v1h-1zM948 588h1v1h-1zM956 588h1v1h-1zM998 588h1v1h-1zM1016 588h2v1h-2zM1034 588h5v1h-5zM1046 588h1v1h-1zM1087 588h1v1h-1zM468 588h1v2h-1zM717 588h1v2h-1zM959 588h1v2h-1zM1033 588h1v2h-1zM13 589h1v1h-1zM214 589h1v1h-1zM225 589h1v1h-1zM245 589h1v1h-1zM279 589h1v1h-1zM471 589h1v1h-1zM477 589h1v1h-1zM479 589h1v1h-1zM485 589h2v1h-2zM491 589h1v1h-1zM718 589h1v1h-1zM728 589h1v1h-1zM768 589h3v1h-3zM879 589h1v1h-1zM910 589h1v1h-1zM918 589h2v1h-2zM949 589h1v1h-1zM955 589h1v1h-1zM999 589h1v1h-1zM1018 589h1v1h-1zM1081 589h1v1h-1zM463 589h1v2h-1zM878 589h1v2h-1zM937 589h1v2h-1zM997 589h1v2h-1zM1003 589h1v2h-1zM1086 589h1v2h-1zM1173 589h1v2h-1zM1220 589h1v5h-1zM5 590h1v1h-1zM215 590h1v1h-1zM224 590h1v1h-1zM246 590h1v1h-1zM278 590h1v1h-1zM475 590h2v1h-2zM480 590h2v1h-2zM483 590h2v1h-2zM487 590h2v1h-2zM490 590h1v1h-1zM719 590h3v1h-3zM727 590h1v1h-1zM911 590h2v1h-2zM916 590h2v1h-2zM920 590h2v1h-2zM950 590h2v1h-2zM954 590h1v1h-1zM989 590h1v1h-1zM1000 590h2v1h-2zM1019 590h1v1h-1zM1082 590h2v1h-2zM1174 590h1v1h-1zM12 590h1v2h-1zM467 590h1v2h-1zM472 590h1v2h-1zM1032 590h1v2h-1zM960 590h1v3h-1zM6 591h1v1h-1zM216 591h2v1h-2zM223 591h1v1h-1zM247 591h2v1h-2zM277 591h1v1h-1zM474 591h1v1h-1zM482 591h1v1h-1zM489 591h1v1h-1zM722 591h2v1h-2zM726 591h1v1h-1zM913 591h1v1h-1zM915 591h1v1h-1zM922 591h1v1h-1zM936 591h1v1h-1zM952 591h2v1h-2zM988 591h1v1h-1zM990 591h1v1h-1zM1002 591h1v1h-1zM1020 591h1v1h-1zM1084 591h2v1h-2zM1175 591h2v1h-2zM464 591h1v2h-1zM996 591h1v2h-1zM308 591h1v4h-1zM342 591h1v4h-1zM7 592h1v1h-1zM11 592h1v1h-1zM218 592h5v1h-5zM249 592h2v1h-2zM276 592h1v1h-1zM473 592h1v1h-1zM724 592h2v1h-2zM914 592h1v1h-1zM923 592h1v1h-1zM929 592h1v1h-1zM935 592h1v1h-1zM987 592h1v1h-1zM991 592h1v1h-1zM1021 592h1v1h-1zM1177 592h2v1h-2zM466 592h1v2h-1zM1031 592h1v2h-1zM8 593h1v1h-1zM10 593h1v1h-1zM251 593h1v1h-1zM930 593h1v1h-1zM986 593h1v1h-1zM992 593h1v1h-1zM1022 593h2v1h-2zM1179 593h1v1h-1zM275 593h1v2h-1zM465 593h1v2h-1zM924 593h1v2h-1zM928 593h1v2h-1zM934 593h1v2h-1zM961 593h1v2h-1zM995 593h1v2h-1zM9 594h1v1h-1zM931 594h2v1h-2zM985 594h1v1h-1zM993 594h1v1h-1zM1024 594h2v1h-2zM1180 594h1v1h-1zM252 594h1v2h-1zM1030 594h1v2h-1zM1219 594h1v4h-1zM274 595h1v1h-1zM331 595h4v1h-4zM925 595h1v1h-1zM927 595h1v1h-1zM933 595h1v1h-1zM962 595h2v1h-2zM984 595h1v1h-1zM994 595h1v1h-1zM1026 595h2v1h-2zM1181 595h1v1h-1zM341 595h1v2h-1zM309 595h1v3h-1zM253 596h1v1h-1zM273 596h1v1h-1zM330 596h1v1h-1zM335 596h6v1h-6zM926 596h1v1h-1zM964 596h2v1h-2zM983 596h1v1h-1zM1028 596h2v1h-2zM329 596h1v2h-1zM1182 596h1v2h-1zM254 597h1v1h-1zM966 597h1v1h-1zM982 597h1v1h-1zM272 597h1v2h-1zM255 598h2v1h-2zM310 598h2v1h-2zM967 598h2v1h-2zM981 598h1v1h-1zM1183 598h1v1h-1zM328 598h1v2h-1zM1218 598h1v4h-1zM257 599h2v1h-2zM271 599h1v1h-1zM312 599h3v1h-3zM969 599h1v1h-1zM980 599h1v1h-1zM1184 599h1v1h-1zM259 600h2v1h-2zM315 600h3v1h-3zM970 600h2v1h-2zM979 600h1v1h-1zM270 600h1v2h-1zM327 600h1v2h-1zM1185 600h1v2h-1zM261 601h2v1h-2zM318 601h1v1h-1zM972 601h3v1h-3zM978 601h1v1h-1zM263 602h7v1h-7zM319 602h2v1h-2zM325 602h2v1h-2zM975 602h3v1h-3zM1186 602h1v1h-1zM1217 602h1v2h-1zM321 603h1v1h-1zM323 603h2v1h-2zM1187 603h2v1h-2zM322 604h1v1h-1zM1189 604h3v1h-3zM1216 604h1v2h-1zM1192 605h3v1h-3zM1195 606h2v1h-2zM1215 606h1v2h-1zM1197 607h2v1h-2zM1199 608h1v1h-1zM1214 608h1v1h-1zM1200 609h1v2h-1zM1213 609h1v2h-1zM1201 611h1v1h-1zM1212 611h1v1h-1zM1202 612h5v1h-5zM1211 612h1v2h-1zM1207 613h2v1h-2zM1209 614h2v1h-2z" fill="#1e90ff"/>
<text x="9.4" y="545" font-size="10" fill="#000" textLength="67" lengthAdjust="spacingAndGlyphs" >RSI(14) 55.6781</text>
<text x="1601.7" y="543" font-size="10" fill="#000" textLength="14.5" lengthAdjust="spacingAndGlyphs" >100</text>
<text x="1601.7" y="564" font-size="10" fill="#000" textLength="8.6" lengthAdjust="spacingAndGlyphs" >70</text>
<text x="1601.7" y="600" font-size="10" fill="#000" textLength="8.6" lengthAdjust="spacingAndGlyphs" >30</text>
<text x="1601.7" y="621" font-size="10" fill="#000" textLength="4.7" lengthAdjust="spacingAndGlyphs" >0</text>
<rect x="1598" y="534" width="2" height="1" fill="#000" />
<rect x="1598" y="560" width="2" height="1" fill="#000" />
<rect x="1598" y="596" width="2" height="1" fill="#000" />
<rect x="1598" y="622" width="2" height="1" fill="#000" />
<rect x="5" y="659" width="1" height="8" fill="#c0c0c0" />
<rect x="9" y="659" width="1" height="10" fill="#c0c0c0" />
<rect x="13" y="659" width="1" height="11" fill="#c0c0c0" />
<rect x="17" y="659" width="1" height="11" fill="#c0c0c0" />
<rect x="21" y="659" width="1" height="11" fill="#c0c0c0" />
<rect x="25" y="659" width="1" height="10" fill="#c0c0c0" />
<rect x="29" y="659" width="1" height="9" fill="#c0c0c0" />
<rect x="33" y="659" width="1" height="8" fill="#c0c0c0" />
<rect x="37" y="659" width="1" height="7" fill="#c0c0c0" />
<rect x="41" y="659" width="1" height="5" fill="#c0c0c0" />
<rect x="45" y="659" width="1" height="4" fill="#c0c0c0" />
<rect x="49" y="659" width="1" height="3" fill="#c0c0c0" />
<rect x="53" y="659" width="1" height="2" fill="#c0c0c0" />
<rect x="57" y="659" width="1" height="1" fill="#c0c0c0" />
<rect x="61" y="659" width="1" height="1" fill="#c0c0c0" />
<rect x="65" y="659" width="1" height="1" fill="#c0c0c0" />
<rect x="69" y="658" width="1" height="2" fill="#c0c0c0" />
<rect x="73" y="657" width="1" height="3" fill="#c0c0c0" />
<rect x="77" y="656" width="1" height="4" fill="#c0c0c0" />
<rect x="81" y="655" width="1" height="5" fill="#c0c0c0" />
<rect x="85" y="653" width="1" height="7" fill="#c0c0c0" />
<rect x="89" y="650" width="1" height="10" fill="#c0c0c0" />
<rect x="93" y="646" width="1" height="14" fill="#c0c0c0" />
<rect x="97" y="643" width="1" height="17" fill="#c0c0c0" />
<rect x="101" y="641" width="1" height="19" fill="#c0c0c0" />
<rect x="105" y="639" width="1" height="21" fill="#c0c0c0" />
<rect x="109" y="636" width="1" height="24" fill="#c0c0c0" />
<rect x="113" y="635" width="1" height="25" fill="#c0c0c0" />
<rect x="117" y="633" width="1" height="27" fill="#c0c0c0" />
<rect x="121" y="633" width="1" height="27" fill="#c0c0c0" />
<rect x="125" y="633" width="1" height="27" fill="#c0c0c0" />
<rect x="129" y="634" width="1" height="26" fill="#c0c0c0" />
<rect x="133" y="634" width="1" height="26" fill="#c0c0c0" />
<rect x="137" y="636" width="1" height="24" fill="#c0c0c0" />
<rect x="141" y="638" width="1" height="22" fill="#c0c0c0" />
<rect x="145" y="639" width="1" height="21" fill="#c0c0c0" />
<rect x="149" y="639" width="1" height="21" fill="#c0c0c0" />
<rect x="153" y="640" width="1" height="20" fill="#c0c0c0" />
<rect x="157" y="640" width="1" height="20" fill="#c0c0c0" />
<rect x="161" y="641" width="1" height="19" fill="#c0c0c0" />
<rect x="165" y="644" width="1" height="16" fill="#c0c0c0" />
<rect x="169" y="648" width="1" height="12" fill="#c0c0c0" />
<rect x="173" y="650" width="1" height="10" fill="#c0c0c0" />
<rect x="177" y="655" width="1" height="5" fill="#c0c0c0" />
<rect x="181" y="657" width="1" height="3" fill="#c0c0c0" />
<rect x="185" y="659" width="1" height="1" fill="#c0c0c0" />
<rect x="189" y="659" width="1" height="1" fill="#c0c0c0" />
<rect x="193" y="659" width="1" height="1" fill="#c0c0c0" />
<rect x="197" y="659" width="1" height="1" fill="#c0c0c0" />
<rect x="201" y="659" width="1" height="2" fill="#c0c0c0" />
<rect x="205" y="659" width="1" height="3" fill="#c0c0c0" />
<rect x="209" y="659" width="1" height="3" fill="#c0c0c0" />
<rect x="213" y="659" width="1" height="6" fill="#c0c0c0" />
<rect x="217" y="659" width="1" height="9" fill="#c0c0c0" />
<rect x="221" y="659" width="1" height="11" fill="#c0c0c0" />
<rect x="225" y="659" width="1" height="11" fill="#c0c0c0" />
<rect x="229" y="659" width="1" height="10" fill="#c0c0c0" />
<rect x="233" y="659" width="1" height="9" fill="#c0c0c0" />
<rect x="237" y="659" width="1" height="8" fill="#c0c0c0" />
<rect x="241" y="659" width="1" height="9" fill="#c0c0c0" />
<rect x="245" y="659" width="1" height="10" fill="#c0c0c0" />
<rect x="249" y="659" width="1" height="13" fill="#c0c0c0" />
<rect x="253" y="659" width="1" height="16" fill="#c0c0c0" />
<rect x="257" y="659" width="1" height="20" fill="#c0c0c0" />
<rect x="261" y="659" width="1" height="23" fill="#c0c0c0" />
<rect x="265" y="659" width="1" height="26" fill="#c0c0c0" />
<rect x="269" y="659" width="1" height="29" fill="#c0c0c0" />
<rect x="273" y="659" width="1" height="29" fill="#c0c0c0" />
<rect x="277" y="659" width="1" height="28" fill="#c0c0c0" />
<rect x="281" y="659" width="1" height="26" fill="#c0c0c0" />
<rect x="285" y="659" width="1" height="24" fill="#c0c0c0" />
<rect x="289" y="659" width="1" height="20" fill="#c0c0c0" />
<rect x="293" y="659" width="1" height="17" fill="#c0c0c0" />
<rect x="297" y="659" width="1" height="15" fill="#c0c0c0" />
<rect x="301" y="659" width="1" height="13" fill="#c0c0c0" />
<rect x="305" y="659" width="1" height="12" fill="#c0c0c0" />
<rect x="309" y="659" width="1" height="17" fill="#c0c0c0" />
<rect x="313" y="659" width="1" height="22" fill="#c0c0c0" />
<rect x="317" y="659" width="1" height="26" fill="#c0c0c0" />
<rect x="321" y="659" width="1" height="32" fill="#c0c0c0" />
<rect x="325" y="659" width="1" height="35" fill="#c0c0c0" />
<rect x="329" y="659" width="1" height="36" fill="#c0c0c0" />
<rect x="333" y="659" width="1" height="36" fill="#c0c0c0" />
<rect x="337" y="659" width="1" height="36" fill="#c0c0c0" />
<rect x="341" y="659" width="1" height="36" fill="#c0c0c0" />
<rect x="345" y="659" width="1" height="31" fill="#c0c0c0" />
<rect x="349" y="659" width="1" height="27" fill="#c0c0c0" />
<rect x="353" y="659" width="1" height="23" fill="#c0c0c0" />
<rect x="357" y="659" width="1" height="20" fill="#c0c0c0" />
<rect x="361" y="659" width="1" height="15" fill="#c0c0c0" />
<rect x="365" y="659" width="1" height="11" fill="#c0c0c0" />
<rect x="369" y="659" width="1" height="7" fill="#c0c0c0" />
<rect x="373" y="659" width="1" height="4" fill="#c0c0c0" />
<rect x="377" y="659" width="1" height="3" fill="#c0c0c0" />
<rect x="381" y="659" width="1" height="2" fill="#c0c0c0" />
<rect x="385" y="659" width="1" height="4" fill="#c0c0c0" />
<rect x="389" y="659" width="1" height="5" fill="#c0c0c0" />
<rect x="393" y="659" width="1" height="5" fill="#c0c0c0" />
<rect x="397" y="659" width="1" height="4" fill="#c0c0c0" />
<rect x="401" y="659" width="1" height="4" fill="#c0c0c0" />
<rect x="405" y="659" width="1" height="3" fill="#c0c0c0" />
<rect x="409" y="659" width="1" height="5" fill="#c0c0c0" />
<rect x="413" y="659" width="1" height="6" fill="#c0c0c0" />
<rect x="417" y="659" width="1" height="8" fill="#c0c0c0" />
<rect x="421" y="659" width="1" height="7" fill="#c0c0c0" />
<rect x="425" y="659" width="1" height="6" fill="#c0c0c0" />
<rect x="429" y="659" width="1" height="3" fill="#c0c0c0" />
<rect x="433" y="659" width="1" height="1" fill="#c0c0c0" />
<rect x="437" y="658" width="1" height="2" fill="#c0c0c0" />
<rect x="441" y="656" width="1" height="4" fill="#c0c0c0" />
<rect x="445" y="656" width="1" height="4" fill="#c0c0c0" />
<rect x="449" y="656" width="1" height="4" fill="#c0c0c0" />
<rect x="453" y="654" width="1" height="6" fill="#c0c0c0" />
<rect x="457" y="659" width="1" height="1" fill="#c0c0c0" />
<rect x="461" y="659" width="1" height="1" fill="#c0c0c0" />
<rect x="465" y="659" width="1" height="7" fill="#c0c0c0" />
<rect x="469" y="659" width="1" height="9" fill="#c0c0c0" />
<rect x="473" y="659" width="1" height="14" fill="#c0c0c0" />
<rect x="477" y="659" width="1" height="16" fill="#c0c0c0" />
<rect x="481" y="659" width="1" height="18" fill="#c0c0c0" />
<rect x="485" y="659" width="1" height="20" fill="#c0c0c0" />
<rect x="489" y="659" width="1" height="22" fill="#c0c0c0" />
<rect x="493" y="659" width="1" height="21" fill="#c0c0c0" />
<rect x="497" y="659" width="1" height="21" fill="#c0c0c0" />
<rect x="501" y="659" width="1" height="20" fill="#c0c0c0" />
<rect x="505" y="659" width="1" height="17" fill="#c0c0c0" />
<rect x="509" y="659" width="1" height="15" fill="#c0c0c0" />
<rect x="513" y="659" width="1" height="12" fill="#c0c0c0" />
<rect x="517" y="659" width="1" height="11" fill="#c0c0c0" />
<rect x="521" y="659" width="1" height="8" fill="#c0c0c0" />
<rect x="525" y="659" width="1" height="6" fill="#c0c0c0" />
<rect x="529" y="659" width="1" height="7" fill="#c0c0c0" />
<rect x="533" y="659" width="1" height="8" fill="#c0c0c0" />
<rect x="537" y="659" width="1" height="7" fill="#c0c0c0" />
<rect x="541" y="659" width="1" height="5" fill="#c0c0c0" />
<rect x="545" y="659" width="1" height="4" fill="#c0c0c0" />
<rect x="549" y="659" width="1" height="1" fill="#c0c0c0" />
<rect x="553" y="657" width="1" height="3" fill="#c0c0c0" />
<rect x="557" y="653" width="1" height="7" fill="#c0c0c0" />
<rect x="561" y="651" width="1" height="9" fill="#c0c0c0" />
<rect x="565" y="650" width="1" height="10" fill="#c0c0c0" />
<rect x="569" y="652" width="1" height="8" fill="#c0c0c0" />
<rect x="573" y="651" width="1" height="9" fill="#c0c0c0" />
<rect x="577" y="651" width="1" height="9" fill="#c0c0c0" />
<rect x="581" y="651" width="1" height="9" fill="#c0c0c0" />
<rect x="585" y="649" width="1" height="11" fill="#c0c0c0" />
<rect x="589" y="648" width="1" height="12" fill="#c0c0c0" />
<rect x="593" y="646" width="1" height="14" fill="#c0c0c0" />
<rect x="597" y="647" width="1" height="13" fill="#c0c0c0" />
<rect x="601" y="647" width="1" height="13" fill="#c0c0c0" />
<rect x="605" y="647" width="1" height="13" fill="#c0c0c0" />
<rect x="609" y="646" width="1" height="14" fill="#c0c0c0" />
<rect x="613" y="646" width="1" height="14" fill="#c0c0c0" />
<rect x="617" y="645" width="1" height="15" fill="#c0c0c0" />
<rect x="621" y="645" width="1" height="15" fill="#c0c0c0" />
<rect x="625" y="645" width="1" height="15" fill="#c0c0c0" />
<rect x="629" y="646" width="1" height="14" fill="#c0c0c0" />
<rect x="633" y="648" width="1" height="12" fill="#c0c0c0" />
<rect x="637" y="650" width="1" height="10" fill="#c0c0c0" />
<rect x="641" y="651" width="1" height="9" fill="#c0c0c0" />
<rect x="645" y="651" width="1" height="9" fill="#c0c0c0" />
<rect x="649" y="651" width="1" height="9" fill="#c0c0c0" />
<rect x="653" y="652" width="1" height="8" fill="#c0c0c0" />
<rect x="657" y="650" width="1" height="10" fill="#c0c0c0" />
<rect x="661" y="649" width="1" height="11" fill="#c0c0c0" />
<rect x="665" y="648" width="1" height="12" fill="#c0c0c0" />
<rect x="669" y="647" width="1" height="13" fill="#c0c0c0" />
<rect x="673" y="647" width="1" height="13" fill="#c0c0c0" />
<rect x="677" y="648" width="1" height="12" fill="#c0c0c0" />
<rect x="681" y="649" width="1" height="11" fill="#c0c0c0" />
<rect x="685" y="649" width="1" height="11" fill="#c0c0c0" />
<rect x="689" y="650" width="1" height="10" fill="#c0c0c0" />
<rect x="693" y="650" width="1" height="10" fill="#c0c0c0" />
<rect x="697" y="650" width="1" height="10" fill="#c0c0c0" />
<rect x="701" y="650" width="1" height="10" fill="#c0c0c0" />
<rect x="705" y="650" width="1" height="10" fill="#c0c0c0" />
<rect x="709" y="649" width="1" height="11" fill="#c0c0c0" />
<rect x="713" y="650" width="1" height="10" fill="#c0c0c0" />
<rect x="717" y="655" width="1" height="5" fill="#c0c0c0" />
<rect x="721" y="659" width="1" height="1" fill="#c0c0c0" />
<rect x="725" y="659" width="1" height="2" fill="#c0c0c0" />
<rect x="729" y="659" width="1" height="4" fill="#c0c0c0" />
<rect x="733" y="659" width="1" height="5" fill="#c0c0c0" />
<rect x="737" y="659" width="1" height="4" fill="#c0c0c0" />
<rect x="741" y="659" width="1" height="3" fill="#c0c0c0" />
<rect x="745" y="659" width="1" height="2" fill="#c0c0c0" />
<rect x="749" y="659" width="1" height="1" fill="#c0c0c0" />
<rect x="753" y="659" width="1" height="1" fill="#c0c0c0" />
<rect x="757" y="658" width="1" height="2" fill="#c0c0c0" />
<rect x="761" y="659" width="1" height="1" fill="#c0c0c0" />
<rect x="765" y="659" width="1" height="1" fill="#c0c0c0" />
<rect x="769" y="659" width="1" height="3" fill="#c0c0c0" />
<rect x="773" y="659" width="1" height="6" fill="#c0c0c0" />
<rect x="777" y="659" width="1" height="7" fill="#c0c0c0" />
<rect x="781" y="659" width="1" height="5" fill="#c0c0c0" />
<rect x="785" y="659" width="1" height="3" fill="#c0c0c0" />
<rect x="789" y="659" width="1" height="1" fill="#c0c0c0" />
<rect x="793" y="659" width="1" height="1" fill="#c0c0c0" />
<rect x="797" y="657" width="1" height="3" fill="#c0c0c0" />
<rect x="801" y="656" width="1" height="4" fill="#c0c0c0" />
<rect x="805" y="656" width="1" height="4" fill="#c0c0c0" />
<rect x="809" y="659" width="1" height="1" fill="#c0c0c0" />
<rect x="813" y="659" width="1" height="1" fill="#c0c0c0" />
<rect x="817" y="659" width="1" height="1" fill="#c0c0c0" />
<rect x="821" y="659" width="1" height="1" fill="#c0c0c0" />
<rect x="825" y="659" width="1" height="3" fill="#c0c0c0" />
<rect x="829" y="659" width="1" height="3" fill="#c0c0c0" />
<rect x="833" y="659" width="1" height="1" fill="#c0c0c0" />
<rect x="837" y="659" width="1" height="1" fill="#c0c0c0" />
<rect x="841" y="659" width="1" height="1" fill="#c0c0c0" />
<rect x="845" y="657" width="1" height="3" fill="#c0c0c0" />
<rect x="849" y="656" width="1" height="4" fill="#c0c0c0" />
<rect x="853" y="654" width="1" height="6" fill="#c0c0c0" />
<rect x="857" y="652" width="1" height="8" fill="#c0c0c0" />
<rect x="861" y="651" width="1" height="9" fill="#c0c0c0" />
<rect x="865" y="650" width="1" height="10" fill="#c0c0c0" />
<rect x="869" y="649" width="1" height="11" fill="#c0c0c0" />
<rect x="873" y="651" width="1" height="9" fill="#c0c0c0" />
<rect x="877" y="656" width="1" height="4" fill="#c0c0c0" />
<rect x="881" y="659" width="1" height="1" fill="#c0c0c0" />
<rect x="885" y="659" width="1" height="1" fill="#c0c0c0" />
<rect x="889" y="659" width="1" height="2" fill="#c0c0c0" />
<rect x="893" y="659" width="1" height="3" fill="#c0c0c0" />
<rect x="897" y="659" width="1" height="4" fill="#c0c0c0" />
<rect x="901" y="659" width="1" height="6" fill="#c0c0c0" />
<rect x="905" y="659" width="1" height="7" fill="#c0c0c0" />
<rect x="909" y="659" width="1" height="8" fill="#c0c0c0" />
<rect x="913" y="659" width="1" height="10" fill="#c0c0c0" />
<rect x="917" y="659" width="1" height="11" fill="#c0c0c0" />
<rect x="921" y="659" width="1" height="12" fill="#c0c0c0" />
<rect x="925" y="659" width="1" height="14" fill="#c0c0c0" />
<rect x="929" y="659" width="1" height="15" fill="#c0c0c0" />
<rect x="933" y="659" width="1" height="17" fill="#c0c0c0" />
<rect x="937" y="659" width="1" height="16" fill="#c0c0c0" />
<rect x="941" y="659" width="1" height="16" fill="#c0c0c0" />
<rect x="945" y="659" width="1" height="15" fill="#c0c0c0" />
<rect x="949" y="659" width="1" height="15" fill="#c0c0c0" />
<rect x="953" y="659" width="1" height="15" fill="#c0c0c0" />
<rect x="957" y="659" width="1" height="15" fill="#c0c0c0" />
<rect x="961" y="659" width="1" height="17" fill="#c0c0c0" />
<rect x="965" y="659" width="1" height="18" fill="#c0c0c0" />
<rect x="969" y="659" width="1" height="21" fill="#c0c0c0" />
<rect x="973" y="659" width="1" height="24" fill="#c0c0c0" />
<rect x="977" y="659" width="1" height="26" fill="#c0c0c0" />
<rect x="981" y="659" width="1" height="26" fill="#c0c0c0" />
<rect x="985" y="659" width="1" height="26" fill="#c0c0c0" />
<rect x="989" y="659" width="1" height="25" fill="#c0c0c0" />
<rect x="993" y="659" width="1" height="25" fill="#c0c0c0" />
<rect x="997" y="659" width="1" height="24" fill="#c0c0c0" />
<rect x="1001" y="659" width="1" height="23" fill="#c0c0c0" />
<rect x="1005" y="659" width="1" height="21" fill="#c0c0c0" />
<rect x="1009" y="659" width="1" height="19" fill="#c0c0c0" />
<rect x="1013" y="659" width="1" height="17" fill="#c0c0c0" />
<rect x="1017" y="659" width="1" height="17" fill="#c0c0c0" />
<rect x="1021" y="659" width="1" height="17" fill="#c0c0c0" />
<rect x="1025" y="659" width="1" height="19" fill="#c0c0c0" />
<rect x="1029" y="659" width="1" height="20" fill="#c0c0c0" />
<rect x="1033" y="659" width="1" height="20" fill="#c0c0c0" />
<rect x="1037" y="659" width="1" height="18" fill="#c0c0c0" />
<rect x="1041" y="659" width="1" height="17" fill="#c0c0c0" />
<rect x="1045" y="659" width="1" height="16" fill="#c0c0c0" />
<rect x="1049" y="659" width="1" height="15" fill="#c0c0c0" />
<rect x="1053" y="659" width="1" height="13" fill="#c0c0c0" />
<rect x="1057" y="659" width="1" height="12" fill="#c0c0c0" />
<rect x="1061" y="659" width="1" height="10" fill="#c0c0c0" />
<rect x="1065" y="659" width="1" height="10" fill="#c0c0c0" />
<rect x="1069" y="659" width="1" height="7" fill="#c0c0c0" />
<rect x="1073" y="659" width="1" height="5" fill="#c0c0c0" />
<rect x="1077" y="659" width="1" height="5" fill="#c0c0c0" />
<rect x="1081" y="659" width="1" height="7" fill="#c0c0c0" />
<rect x="1085" y="659" width="1" height="9" fill="#c0c0c0" />
<rect x="1089" y="659" width="1" height="10" fill="#c0c0c0" />
<rect x="1093" y="659" width="1" height="8" fill="#c0c0c0" />
<rect x="1097" y="659" width="1" height="6" fill="#c0c0c0" />
<rect x="1101" y="659" width="1" height="3" fill="#c0c0c0" />
<rect x="1105" y="659" width="1" height="1" fill="#c0c0c0" />
<rect x="1109" y="658" width="1" height="2" fill="#c0c0c0" />
<rect x="1113" y="656" width="1" height="4" fill="#c0c0c0" />
<rect x="1117" y="654" width="1" height="6" fill="#c0c0c0" />
<rect x="1121" y="654" width="1" height="6" fill="#c0c0c0" />
<rect x="1125" y="652" width="1" height="8" fill="#c0c0c0" />
<rect x="1129" y="650" width="1" height="10" fill="#c0c0c0" />
<rect x="1133" y="648" width="1" height="12" fill="#c0c0c0" />
<rect x="1137" y="647" width="1" height="13" fill="#c0c0c0" />
<rect x="1141" y="646" width="1" height="14" fill="#c0c0c0" />
<rect x="1145" y="645" width="1" height="15" fill="#c0c0c0" />
<rect x="1149" y="645" width="1" height="15" fill="#c0c0c0" />
<rect x="1153" y="646" width="1" height="14" fill="#c0c0c0" />
<rect x="1157" y="647" width="1" height="13" fill="#c0c0c0" />
<rect x="1161" y="649" width="1" height="11" fill="#c0c0c0" />
<rect x="1165" y="651" width="1" height="9" fill="#c0c0c0" />
<rect x="1169" y="652" width="1" height="8" fill="#c0c0c0" />
<rect x="1173" y="656" width="1" height="4" fill="#c0c0c0" />
<rect x="1177" y="659" width="1" height="1" fill="#c0c0c0" />
<rect x="1181" y="659" width="1" height="4" fill="#c0c0c0" />
<rect x="1185" y="659" width="1" height="9" fill="#c0c0c0" />
<rect x="1189" y="659" width="1" height="15" fill="#c0c0c0" />
<rect x="1193" y="659" width="1" height="20" fill="#c0c0c0" />
<rect x="1197" y="659" width="1" height="25" fill="#c0c0c0" />
<rect x="1201" y="659" width="1" height="34" fill="#c0c0c0" />
<rect x="1205" y="659" width="1" height="42" fill="#c0c0c0" />
<rect x="1209" y="659" width="1" height="49" fill="#c0c0c0" />
<rect x="1213" y="659" width="1" height="54" fill="#c0c0c0" />
<rect x="1217" y="659" width="1" height="54" fill="#c0c0c0" />
<rect x="1221" y="659" width="1" height="48" fill="#c0c0c0" />
<rect x="1225" y="659" width="1" height="42" fill="#c0c0c0" />
<rect x="1229" y="659" width="1" height="37" fill="#c0c0c0" />
<rect x="1233" y="659" width="1" height="36" fill="#c0c0c0" />
<rect x="1237" y="659" width="1" height="27" fill="#c0c0c0" />
<rect x="1241" y="659" width="1" height="17" fill="#c0c0c0" />
<rect x="1245" y="659" width="1" height="3" fill="#c0c0c0" />
<rect x="1249" y="652" width="1" height="8" fill="#c0c0c0" />
<rect x="1253" y="643" width="1" height="17" fill="#c0c0c0" />
<rect x="1257" y="638" width="1" height="22" fill="#c0c0c0" />
<rect x="1261" y="635" width="1" height="25" fill="#c0c0c0" />
<rect x="1265" y="634" width="1" height="26" fill="#c0c0c0" />
<rect x="1269" y="635" width="1" height="25" fill="#c0c0c0" />
<path d="M143 633h3v1h-3zM137 634h3v1h-3zM149 634h3v1h-3zM131 635h3v1h-3zM155 635h1v1h-1zM156 636h2v1h-2zM125 637h3v1h-3zM161 637h3v1h-3zM167 638h1v1h-1zM121 639h1v1h-1zM168 639h2v1h-2zM119 640h2v1h-2zM173 641h1v1h-1zM115 642h1v1h-1zM174 642h2v1h-2zM114 643h1v1h-1zM113 644h1v1h-1zM179 644h1v1h-1zM180 645h2v1h-2zM623 645h3v1h-3zM629 645h3v1h-3zM611 646h3v1h-3zM617 646h3v1h-3zM635 646h3v1h-3zM641 646h3v1h-3zM1163 646h3v1h-3zM108 647h2v1h-2zM185 647h1v1h-1zM1169 647h1v1h-1zM107 648h1v1h-1zM186 648h2v1h-2zM599 648h3v1h-3zM605 648h3v1h-3zM647 648h3v1h-3zM653 648h3v1h-3zM677 648h3v1h-3zM683 648h3v1h-3zM689 648h3v1h-3zM695 648h3v1h-3zM701 648h3v1h-3zM1151 648h3v1h-3zM1157 648h3v1h-3zM1170 648h2v1h-2zM593 649h3v1h-3zM659 649h3v1h-3zM665 649h3v1h-3zM671 649h3v1h-3zM707 649h3v1h-3zM713 649h3v1h-3zM1146 649h2v1h-2zM1175 649h2v1h-2zM101 650h3v1h-3zM587 650h3v1h-3zM719 650h1v1h-1zM1145 650h1v1h-1zM1177 650h1v1h-1zM191 651h1v1h-1zM720 651h2v1h-2zM97 652h1v1h-1zM192 652h2v1h-2zM581 652h3v1h-3zM725 652h2v1h-2zM875 652h3v1h-3zM881 652h3v1h-3zM1140 652h2v1h-2zM1181 652h2v1h-2zM1269 652h1v1h-1zM96 653h1v1h-1zM727 653h1v1h-1zM870 653h2v1h-2zM1139 653h1v1h-1zM1183 653h1v1h-1zM1268 653h1v1h-1zM95 654h1v1h-1zM197 654h1v1h-1zM577 654h1v1h-1zM869 654h1v1h-1zM887 654h3v1h-3zM1133 654h3v1h-3zM198 655h2v1h-2zM575 655h2v1h-2zM731 655h3v1h-3zM864 655h2v1h-2zM893 655h3v1h-3zM1187 655h1v1h-1zM90 656h2v1h-2zM863 656h1v1h-1zM1129 656h1v1h-1zM1188 656h1v1h-1zM89 657h1v1h-1zM570 657h2v1h-2zM737 657h1v1h-1zM899 657h1v1h-1zM1127 657h2v1h-2zM1189 657h1v1h-1zM1266 657h1v1h-1zM5 658h2v1h-2zM83 658h3v1h-3zM203 658h3v1h-3zM455 658h3v1h-3zM461 658h3v1h-3zM467 658h2v1h-2zM569 658h1v1h-1zM738 658h2v1h-2zM815 658h3v1h-3zM821 658h3v1h-3zM827 658h3v1h-3zM857 658h3v1h-3zM900 658h2v1h-2zM1265 658h1v1h-1zM7 659h1v1h-1zM77 659h3v1h-3zM209 659h3v1h-3zM469 659h1v1h-1zM810 659h2v1h-2zM851 659h3v1h-3zM1123 659h1v1h-1zM1264 659h1v1h-1zM11 660h1v1h-1zM71 660h3v1h-3zM449 660h3v1h-3zM563 660h3v1h-3zM743 660h3v1h-3zM767 660h3v1h-3zM809 660h1v1h-1zM833 660h3v1h-3zM845 660h3v1h-3zM905 660h1v1h-1zM1121 660h2v1h-2zM12 661h2v1h-2zM215 661h1v1h-1zM473 661h2v1h-2zM749 661h1v1h-1zM761 661h3v1h-3zM773 661h3v1h-3zM803 661h3v1h-3zM839 661h3v1h-3zM906 661h2v1h-2zM1193 661h1v1h-1zM66 662h2v1h-2zM216 662h2v1h-2zM443 662h3v1h-3zM475 662h1v1h-1zM557 662h3v1h-3zM750 662h2v1h-2zM755 662h3v1h-3zM779 662h3v1h-3zM785 662h3v1h-3zM791 662h3v1h-3zM797 662h3v1h-3zM1115 662h3v1h-3zM1194 662h1v1h-1zM17 663h1v1h-1zM65 663h1v1h-1zM911 663h3v1h-3zM1195 663h1v1h-1zM1262 663h1v2h-1zM18 664h2v1h-2zM60 664h2v1h-2zM221 664h3v1h-3zM401 664h3v1h-3zM407 664h3v1h-3zM413 664h3v1h-3zM431 664h3v1h-3zM437 664h3v1h-3zM479 664h2v1h-2zM551 664h3v1h-3zM1109 664h3v1h-3zM59 665h1v1h-1zM227 665h3v1h-3zM395 665h3v1h-3zM419 665h3v1h-3zM425 665h3v1h-3zM481 665h1v1h-1zM917 665h3v1h-3zM1103 665h3v1h-3zM1261 665h1v1h-1zM23 666h1v1h-1zM53 666h3v1h-3zM233 666h3v1h-3zM547 666h1v1h-1zM24 667h2v1h-2zM239 667h1v1h-1zM390 667h2v1h-2zM485 667h1v1h-1zM545 667h2v1h-2zM923 667h3v1h-3zM1097 667h3v1h-3zM1199 667h1v1h-1zM29 668h3v1h-3zM35 668h3v1h-3zM41 668h3v1h-3zM47 668h3v1h-3zM240 668h2v1h-2zM245 668h3v1h-3zM389 668h1v1h-1zM486 668h1v1h-1zM539 668h3v1h-3zM929 668h1v1h-1zM1079 668h3v1h-3zM1085 668h3v1h-3zM1091 668h3v1h-3zM1200 668h1v1h-1zM487 669h1v1h-1zM930 669h2v1h-2zM1201 669h1v1h-1zM1259 669h1v1h-1zM251 670h3v1h-3zM384 670h2v1h-2zM533 670h3v1h-3zM1075 670h1v1h-1zM1258 670h1v2h-1zM257 671h1v1h-1zM383 671h1v1h-1zM491 671h1v1h-1zM935 671h3v1h-3zM1073 671h2v1h-2zM258 672h2v1h-2zM492 672h1v1h-1zM527 672h3v1h-3zM941 672h3v1h-3zM493 673h1v1h-1zM947 673h1v1h-1zM1067 673h3v1h-3zM1204 673h1v1h-1zM263 674h3v1h-3zM379 674h1v1h-1zM523 674h1v1h-1zM948 674h2v1h-2zM1205 674h1v1h-1zM378 675h1v1h-1zM497 675h1v1h-1zM521 675h2v1h-2zM953 675h3v1h-3zM959 675h3v1h-3zM1061 675h3v1h-3zM1206 675h1v1h-1zM1256 675h1v2h-1zM269 676h1v1h-1zM377 676h1v1h-1zM498 676h2v1h-2zM965 676h3v1h-3zM971 676h3v1h-3zM1055 676h3v1h-3zM270 677h2v1h-2zM517 677h1v1h-1zM1049 677h3v1h-3zM1255 677h1v1h-1zM311 678h3v1h-3zM317 678h3v1h-3zM503 678h3v1h-3zM509 678h3v1h-3zM515 678h2v1h-2zM977 678h3v1h-3zM1031 678h3v1h-3zM1037 678h3v1h-3zM1043 678h3v1h-3zM306 679h2v1h-2zM373 679h1v1h-1zM1025 679h3v1h-3zM1208 679h1v1h-1zM275 680h1v1h-1zM305 680h1v1h-1zM323 680h3v1h-3zM372 680h1v1h-1zM983 680h3v1h-3zM1019 680h3v1h-3zM1209 680h1v1h-1zM276 681h2v1h-2zM371 681h1v1h-1zM989 681h1v1h-1zM1210 681h1v1h-1zM1253 681h1v1h-1zM300 682h2v1h-2zM329 682h2v1h-2zM990 682h2v1h-2zM1013 682h3v1h-3zM1252 682h1v2h-1zM281 683h3v1h-3zM299 683h1v1h-1zM331 683h1v1h-1zM995 683h3v1h-3zM1001 683h3v1h-3zM1007 683h3v1h-3zM287 684h1v1h-1zM293 684h3v1h-3zM367 684h1v1h-1zM288 685h2v1h-2zM335 685h1v1h-1zM366 685h1v1h-1zM1212 685h1v2h-1zM336 686h1v1h-1zM365 686h1v1h-1zM337 687h1v1h-1zM1213 687h1v1h-1zM1250 687h1v1h-1zM1249 688h1v2h-1zM341 689h1v1h-1zM360 689h2v1h-2zM342 690h2v1h-2zM359 690h1v1h-1zM347 691h1v1h-1zM353 691h3v1h-3zM1216 691h1v2h-1zM348 692h2v1h-2zM1217 693h1v1h-1zM1247 693h1v1h-1zM1246 694h1v1h-1zM1245 695h1v1h-1zM1221 697h1v1h-1zM1222 698h1v1h-1zM1223 699h1v1h-1zM1241 699h1v1h-1zM1240 700h1v1h-1zM1227 701h1v1h-1zM1239 701h1v1h-1zM1228 702h2v1h-2zM1235 703h1v1h-1zM1233 704h2v1h-2z" fill="#ff0000"/>
<text x="9.4" y="639" font-size="10" fill="#000" textLength="147.6" lengthAdjust="spacingAndGlyphs" >MACD(12,26,9) 0.004859 0.001633</text>
<text x="1601" y="637" font-size="10" fill="#000" textLength="37.5" lengthAdjust="spacingAndGlyphs" >0.006167</text>
<text x="1601.7" y="663" font-size="10" fill="#000" textLength="17" lengthAdjust="spacingAndGlyphs" >0.00</text>
<text x="1601" y="715" font-size="10" fill="#000" textLength="41" lengthAdjust="spacingAndGlyphs" >-0.011531</text>
<rect x="1598" y="628" width="2" height="1" fill="#000" />
<rect x="1598" y="659" width="2" height="1" fill="#000" />
<rect x="1598" y="716" width="2" height="1" fill="#000" />
<rect x="5" y="719" width="1" height="3" fill="#000" />
<text x="4.5" y="731" font-size="10" fill="#000" textLength="51.75" lengthAdjust="spacingAndGlyphs" >23 Mar 2019</text>
<rect x="69" y="719" width="1" height="3" fill="#000" />
<text x="68.5" y="731" font-size="10" fill="#000" textLength="50.5" lengthAdjust="spacingAndGlyphs" >11 Apr 2019</text>
<rect x="133" y="719" width="1" height="3" fill="#000" />
<text x="132.5" y="731" font-size="10" fill="#000" textLength="50.5" lengthAdjust="spacingAndGlyphs" >30 Apr 2019</text>
<rect x="197" y="719" width="1" height="3" fill="#000" />
<text x="196.5" y="731" font-size="10" fill="#000" textLength="54" lengthAdjust="spacingAndGlyphs" >18 May 2019</text>
<rect x="261" y="719" width="1" height="3" fill="#000" />
<text x="260.5" y="731" font-size="10" fill="#000" textLength="44.5" lengthAdjust="spacingAndGlyphs" >6 Jun 2019</text>
<rect x="325" y="719" width="1" height="3" fill="#000" />
<text x="324.5" y="731" font-size="10" fill="#000" textLength="49.25" lengthAdjust="spacingAndGlyphs" >25 Jun 2019</text>
<rect x="389" y="719" width="1" height="3" fill="#000" />
<text x="388.5" y="731" font-size="10" fill="#000" textLength="46.25" lengthAdjust="spacingAndGlyphs" >13 Jul 2019</text>
<rect x="453" y="719" width="1" height="3" fill="#000" />
<text x="452.5" y="731" font-size="10" fill="#000" textLength="47.5" lengthAdjust="spacingAndGlyphs" >1 Aug 2019</text>
<rect x="517" y="719" width="1" height="3" fill="#000" />
<text x="516.5" y="731" font-size="10" fill="#000" textLength="52.5" lengthAdjust="spacingAndGlyphs" >20 Aug 2019</text>
<rect x="581" y="719" width="1" height="3" fill="#000" />
<text x="580.5" y="731" font-size="10" fill="#000" textLength="47" lengthAdjust="spacingAndGlyphs" >7 Sep 2019</text>
<rect x="645" y="719" width="1" height="3" fill="#000" />
<text x="644.5" y="731" font-size="10" fill="#000" textLength="51.75" lengthAdjust="spacingAndGlyphs" >26 Sep 2019</text>
<rect x="709" y="719" width="1" height="3" fill="#000" />
<text x="708.5" y="731" font-size="10" fill="#000" textLength="50" lengthAdjust="spacingAndGlyphs" >15 Oct 2019</text>
<rect x="773" y="719" width="1" height="3" fill="#000" />
<text x="772.5" y="731" font-size="10" fill="#000" textLength="48.25" lengthAdjust="spacingAndGlyphs" >2 Nov 2019</text>
<rect x="837" y="719" width="1" height="3" fill="#000" />
<text x="836.5" y="731" font-size="10" fill="#000" textLength="53.75" lengthAdjust="spacingAndGlyphs" >21 Nov 2019</text>
<rect x="901" y="719" width="1" height="3" fill="#000" />
<text x="900.5" y="731" font-size="10" fill="#000" textLength="51.5" lengthAdjust="spacingAndGlyphs" >10 Dec 2019</text>
<rect x="965" y="719" width="1" height="3" fill="#000" />
<text x="964.5" y="731" font-size="10" fill="#000" textLength="51.5" lengthAdjust="spacingAndGlyphs" >28 Dec 2019</text>
<rect x="1029" y="719" width="1" height="3" fill="#000" />
<text x="1028.5" y="731" font-size="10" fill="#000" textLength="49.25" lengthAdjust="spacingAndGlyphs" >16 Jan 2020</text>
<rect x="1093" y="719" width="1" height="3" fill="#000" />
<text x="1092.5" y="731" font-size="10" fill="#000" textLength="46.25" lengthAdjust="spacingAndGlyphs" >4 Feb 2020</text>
<rect x="1157" y="719" width="1" height="3" fill="#000" />
<text x="1156.5" y="731" font-size="10" fill="#000" textLength="51.25" lengthAdjust="spacingAndGlyphs" >22 Feb 2020</text>
<rect x="1221" y="719" width="1" height="3" fill="#000" />
<text x="1220.5" y="731" font-size="10" fill="#000" textLength="51.75" lengthAdjust="spacingAndGlyphs" >12 Mar 2020</text>
<text x="18.3" y="756" font-size="13.3" fill="#666" textLength="79.4" lengthAdjust="spacingAndGlyphs" shape-rendering="auto">EURUSD,Daily</text>
<text x="221" y="756" font-size="13.3" fill="#666" textLength="81.7" lengthAdjust="spacingAndGlyphs" shape-rendering="auto">AUDUSD,Daily</text>
<text x="325" y="756" font-size="13.3" fill="#666" textLength="80.7" lengthAdjust="spacingAndGlyphs" shape-rendering="auto">USDCAD,Daily</text>
<text x="428.3" y="756" font-size="13.3" fill="#666" textLength="81.7" lengthAdjust="spacingAndGlyphs" shape-rendering="auto">USDCNH,Daily</text>
<text x="534.2" y="756" font-size="13.3" fill="#666" textLength="80.0" lengthAdjust="spacingAndGlyphs" shape-rendering="auto">EURUSD,Daily</text>
<text x="638.3" y="756" font-size="13.3" fill="#666" textLength="67.3" lengthAdjust="spacingAndGlyphs" shape-rendering="auto">GBPUSD,H4</text>
<text x="729.2" y="756" font-size="13.3" fill="#666" textLength="68.1" lengthAdjust="spacingAndGlyphs" shape-rendering="auto">XAUUSD,H1</text>
<text x="821.2" y="756" font-size="13.3" fill="#666" textLength="49.1" lengthAdjust="spacingAndGlyphs" shape-rendering="auto">HK50,H1</text>
<text x="893.3" y="756" font-size="13.3" fill="#666" textLength="55.5" lengthAdjust="spacingAndGlyphs" shape-rendering="auto">UK100,H1</text>
<text x="973.7" y="756" font-size="13.3" fill="#666" textLength="55.5" lengthAdjust="spacingAndGlyphs" shape-rendering="auto">UK100,H1</text>
<text x="1053" y="756" font-size="13.3" fill="#666" textLength="56.1" lengthAdjust="spacingAndGlyphs" shape-rendering="auto">GER30,H1</text>
<text x="1132.7" y="756" font-size="13.3" fill="#666" textLength="53.6" lengthAdjust="spacingAndGlyphs" shape-rendering="auto">FRA40,H1</text>
<text x="1208.7" y="756" font-size="13.3" fill="#666" textLength="49.7" lengthAdjust="spacingAndGlyphs" shape-rendering="auto">USOil,H1</text>
<text x="1280.5" y="756" font-size="13.3" fill="#666" textLength="62.0" lengthAdjust="spacingAndGlyphs" shape-rendering="auto">USDJPY,H1</text>
<rect x="314" y="745" width="1" height="13" fill="#6e6e6e" />
<rect x="418" y="745" width="1" height="13" fill="#6e6e6e" />
<rect x="522" y="745" width="1" height="13" fill="#6e6e6e" />
<rect x="627" y="745" width="1" height="13" fill="#6e6e6e" />
<rect x="718" y="745" width="1" height="13" fill="#6e6e6e" />
<rect x="810" y="745" width="1" height="13" fill="#6e6e6e" />
<rect x="882" y="745" width="1" height="13" fill="#6e6e6e" />
<rect x="962" y="745" width="1" height="13" fill="#6e6e6e" />
<rect x="1042" y="745" width="1" height="13" fill="#6e6e6e" />
<rect x="1122" y="745" width="1" height="13" fill="#6e6e6e" />
<rect x="1198" y="745" width="1" height="13" fill="#6e6e6e" />
<rect x="1271" y="745" width="1" height="13" fill="#6e6e6e" />
<rect x="1355" y="745" width="1" height="13" fill="#6e6e6e" />
<rect x="110" y="741" width="100" height="19" fill="#fff" />
<rect x="110" y="741" width="1" height="19" fill="#000" />
<rect x="209" y="741" width="1" height="19" fill="#000" />
<rect x="110" y="759" width="100" height="1" fill="#000" />
<rect x="111" y="741" width="98" height="1" fill="#fff" />
<text x="120" y="756" font-size="13.3" fill="#000" textLength="79" lengthAdjust="spacingAndGlyphs" >USDCHF,Daily</text>
<rect x="0" y="742" width="1" height="18" fill="#7a7a7a" />
<rect x="1" y="742" width="1" height="18" fill="#b0b0b0" />
<path d="M1617 745 L1617 755 L1612 750 Z" fill="#9a9a9a" shape-rendering="auto"/>
<path d="M1631 745 L1631 755 L1636 750 Z" fill="#9a9a9a" shape-rendering="auto"/>
</svg></body></html>
